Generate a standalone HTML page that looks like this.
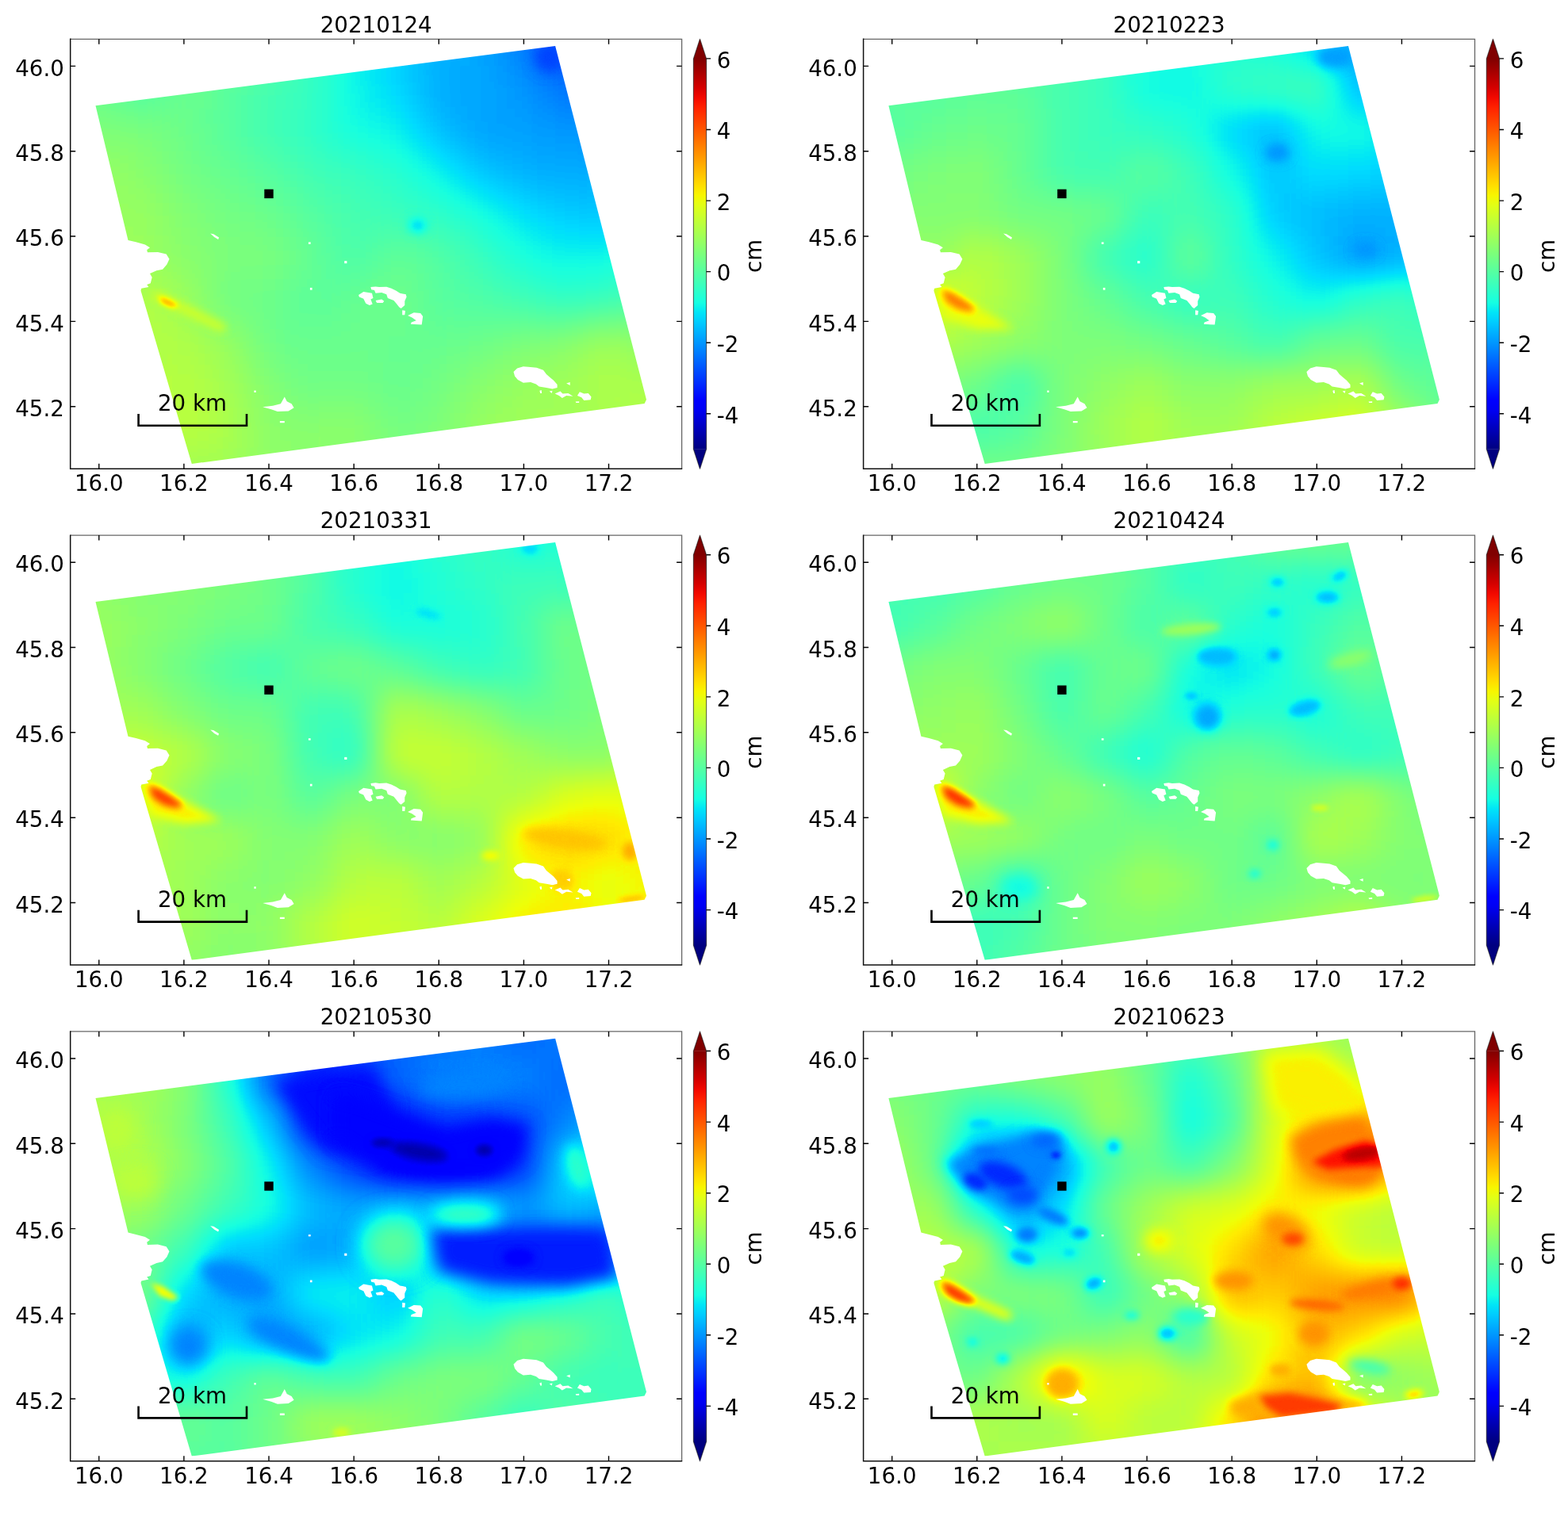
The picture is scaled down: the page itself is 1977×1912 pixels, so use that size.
<!DOCTYPE html>
<html lang="en"><head><meta charset="utf-8"><title>InSAR displacement time series</title>
<style>html,body{margin:0;padding:0;background:#fff}svg{display:block}text{font-family:'DejaVu Sans', 'Liberation Sans', sans-serif}</style>
</head><body>
<svg width="1977" height="1912" viewBox="0 0 1977 1912">
<rect width="1977" height="1912" fill="#fff"/>
<defs>
<filter id="jet" x="0" y="0" width="100%" height="100%" filterUnits="objectBoundingBox" color-interpolation-filters="sRGB"><feComponentTransfer><feFuncR type="table" tableValues="0 0 0 0 0 0 0 0 0 0 0 0 0 0 0 0 0 0 0 0 0 0 0 0 0 0 0 0 0 0 0 0 0 0 0 0 0.032 0.065 0.097 0.129 0.161 0.194 0.226 0.258 0.29 0.323 0.355 0.387 0.419 0.452 0.484 0.516 0.548 0.581 0.613 0.645 0.677 0.71 0.742 0.774 0.806 0.839 0.871 0.903 0.935 0.968 1 1 1 1 1 1 1 1 1 1 1 1 1 1 1 1 1 1 1 1 1 1 1 1 0.955 0.909 0.864 0.818 0.773 0.727 0.682 0.636 0.591 0.545 0.5"/><feFuncG type="table" tableValues="0 0 0 0 0 0 0 0 0 0 0 0 0 0.02 0.06 0.1 0.14 0.18 0.22 0.26 0.3 0.34 0.38 0.42 0.46 0.5 0.54 0.58 0.62 0.66 0.7 0.74 0.78 0.82 0.86 0.9 0.94 0.98 1 1 1 1 1 1 1 1 1 1 1 1 1 1 1 1 1 1 1 1 1 1 1 1 1 1 1 0.963 0.926 0.889 0.852 0.815 0.778 0.741 0.704 0.667 0.63 0.593 0.556 0.519 0.481 0.444 0.407 0.37 0.333 0.296 0.259 0.222 0.185 0.148 0.111 0.074 0.037 0 0 0 0 0 0 0 0 0 0"/><feFuncB type="table" tableValues="0.5 0.545 0.591 0.636 0.682 0.727 0.773 0.818 0.864 0.909 0.955 1 1 1 1 1 1 1 1 1 1 1 1 1 1 1 1 1 1 1 1 1 1 1 1 0.968 0.935 0.903 0.871 0.839 0.806 0.774 0.742 0.71 0.677 0.645 0.613 0.581 0.548 0.516 0.484 0.452 0.419 0.387 0.355 0.323 0.29 0.258 0.226 0.194 0.161 0.129 0.097 0.065 0.032 0 0 0 0 0 0 0 0 0 0 0 0 0 0 0 0 0 0 0 0 0 0 0 0 0 0 0 0 0 0 0 0 0 0 0 0"/></feComponentTransfer></filter>
<filter id="b1" filterUnits="userSpaceOnUse" x="0" y="0" width="950" height="650" color-interpolation-filters="sRGB"><feGaussianBlur stdDeviation="1"/></filter>
<filter id="b2" filterUnits="userSpaceOnUse" x="0" y="0" width="950" height="650" color-interpolation-filters="sRGB"><feGaussianBlur stdDeviation="2"/></filter>
<filter id="b3" filterUnits="userSpaceOnUse" x="0" y="0" width="950" height="650" color-interpolation-filters="sRGB"><feGaussianBlur stdDeviation="3"/></filter>
<filter id="b4" filterUnits="userSpaceOnUse" x="0" y="0" width="950" height="650" color-interpolation-filters="sRGB"><feGaussianBlur stdDeviation="4"/></filter>
<filter id="b6" filterUnits="userSpaceOnUse" x="0" y="0" width="950" height="650" color-interpolation-filters="sRGB"><feGaussianBlur stdDeviation="6"/></filter>
<filter id="b8" filterUnits="userSpaceOnUse" x="0" y="0" width="950" height="650" color-interpolation-filters="sRGB"><feGaussianBlur stdDeviation="8"/></filter>
<filter id="b10" filterUnits="userSpaceOnUse" x="0" y="0" width="950" height="650" color-interpolation-filters="sRGB"><feGaussianBlur stdDeviation="10"/></filter>
<filter id="b12" filterUnits="userSpaceOnUse" x="0" y="0" width="950" height="650" color-interpolation-filters="sRGB"><feGaussianBlur stdDeviation="12"/></filter>
<filter id="b16" filterUnits="userSpaceOnUse" x="0" y="0" width="950" height="650" color-interpolation-filters="sRGB"><feGaussianBlur stdDeviation="16"/></filter>
<filter id="b20" filterUnits="userSpaceOnUse" x="0" y="0" width="950" height="650" color-interpolation-filters="sRGB"><feGaussianBlur stdDeviation="20"/></filter>
<filter id="b25" filterUnits="userSpaceOnUse" x="0" y="0" width="950" height="650" color-interpolation-filters="sRGB"><feGaussianBlur stdDeviation="25"/></filter>
<filter id="b30" filterUnits="userSpaceOnUse" x="0" y="0" width="950" height="650" color-interpolation-filters="sRGB"><feGaussianBlur stdDeviation="30"/></filter>
<filter id="b40" filterUnits="userSpaceOnUse" x="0" y="0" width="950" height="650" color-interpolation-filters="sRGB"><feGaussianBlur stdDeviation="40"/></filter>
<filter id="b50" filterUnits="userSpaceOnUse" x="0" y="0" width="950" height="650" color-interpolation-filters="sRGB"><feGaussianBlur stdDeviation="50"/></filter>
<filter id="b60" filterUnits="userSpaceOnUse" x="0" y="0" width="950" height="650" color-interpolation-filters="sRGB"><feGaussianBlur stdDeviation="60"/></filter>
<filter id="b80" filterUnits="userSpaceOnUse" x="0" y="0" width="950" height="650" color-interpolation-filters="sRGB"><feGaussianBlur stdDeviation="80"/></filter>
<linearGradient id="cb" x1="0" y1="0" x2="0" y2="1"><stop offset="0.000" stop-color="#800000"/><stop offset="0.025" stop-color="#9c0000"/><stop offset="0.050" stop-color="#b90000"/><stop offset="0.075" stop-color="#d60000"/><stop offset="0.100" stop-color="#f30900"/><stop offset="0.125" stop-color="#ff2100"/><stop offset="0.150" stop-color="#ff3900"/><stop offset="0.175" stop-color="#ff5000"/><stop offset="0.200" stop-color="#ff6800"/><stop offset="0.225" stop-color="#ff8000"/><stop offset="0.250" stop-color="#ff9700"/><stop offset="0.275" stop-color="#ffaf00"/><stop offset="0.300" stop-color="#ffc600"/><stop offset="0.325" stop-color="#ffde00"/><stop offset="0.350" stop-color="#f7f600"/><stop offset="0.375" stop-color="#e2ff15"/><stop offset="0.400" stop-color="#ceff29"/><stop offset="0.425" stop-color="#b9ff3e"/><stop offset="0.450" stop-color="#a5ff52"/><stop offset="0.475" stop-color="#90ff67"/><stop offset="0.500" stop-color="#7bff7b"/><stop offset="0.525" stop-color="#67ff90"/><stop offset="0.550" stop-color="#52ffa5"/><stop offset="0.575" stop-color="#3effb9"/><stop offset="0.600" stop-color="#29ffce"/><stop offset="0.625" stop-color="#15ffe2"/><stop offset="0.650" stop-color="#00e5f7"/><stop offset="0.675" stop-color="#00ccff"/><stop offset="0.700" stop-color="#00b2ff"/><stop offset="0.725" stop-color="#0099ff"/><stop offset="0.750" stop-color="#0080ff"/><stop offset="0.775" stop-color="#0066ff"/><stop offset="0.800" stop-color="#004cff"/><stop offset="0.825" stop-color="#0033ff"/><stop offset="0.850" stop-color="#0019ff"/><stop offset="0.875" stop-color="#0000ff"/><stop offset="0.900" stop-color="#0000f3"/><stop offset="0.925" stop-color="#0000d6"/><stop offset="0.950" stop-color="#0000b9"/><stop offset="0.975" stop-color="#00009c"/><stop offset="1.000" stop-color="#000080"/></linearGradient>
</defs>
<clipPath id="foot"><polygon points="120.5,133.3 700.1,58.1 815,504 812.6,509 241.8,585 177.5,366.5 178.3,363.8 187.5,361.9 185.2,358.9 189.8,357.3 191.7,349.7 189,345.1 197.4,341.3 205.1,339.7 210.4,333.6 213.5,326.7 209.7,320.6 199,317.9 186,318.3 185.2,315.2 189,312.2 182.9,308.4 171.4,305.3 161.5,303"/></clipPath>
<g transform="translate(0.0 0.0)">
<g clip-path="url(#foot)"><g filter="url(#jet)">
<rect x="88.7" y="49.3" width="770.9" height="541.9" fill="#7e7e7e"/>
<g filter="url(#b25)" shape-rendering="crispEdges"><rect x="28.0" y="-40.3" width="124.1" height="124.2" fill="#6f6f6f"/><rect x="151.6" y="-40.3" width="54.1" height="124.2" fill="#757575"/><rect x="205.1" y="-40.3" width="107.6" height="124.2" fill="#757575"/><rect x="312.3" y="-40.3" width="54.1" height="124.2" fill="#707070"/><rect x="365.8" y="-40.3" width="54.1" height="124.2" fill="#686868"/><rect x="419.4" y="-40.3" width="54.1" height="124.2" fill="#5f5f5f"/><rect x="472.9" y="-40.3" width="54.1" height="124.2" fill="#545454"/><rect x="526.5" y="-40.3" width="54.1" height="124.2" fill="#4d4d4d"/><rect x="580.1" y="-40.3" width="54.1" height="124.2" fill="#4a4a4a"/><rect x="633.6" y="-40.3" width="54.1" height="124.2" fill="#3f3f3f"/><rect x="687.2" y="-40.3" width="54.1" height="124.2" fill="#333333"/><rect x="740.7" y="-40.3" width="54.1" height="124.2" fill="#383838"/><rect x="794.3" y="-40.3" width="123.6" height="124.2" fill="#3a3a3a"/><rect x="28.0" y="83.4" width="124.1" height="54.2" fill="#7a7a7a"/><rect x="151.6" y="83.4" width="54.1" height="54.2" fill="#6f6f6f"/><rect x="205.1" y="83.4" width="54.1" height="54.2" fill="#7b7b7b"/><rect x="258.7" y="83.4" width="54.1" height="54.2" fill="#767676"/><rect x="312.3" y="83.4" width="54.1" height="54.2" fill="#6f6f6f"/><rect x="365.8" y="83.4" width="54.1" height="54.2" fill="#6b6b6b"/><rect x="419.4" y="83.4" width="54.1" height="54.2" fill="#5d5d5d"/><rect x="472.9" y="83.4" width="54.1" height="54.2" fill="#565656"/><rect x="526.5" y="83.4" width="107.6" height="54.2" fill="#4a4a4a"/><rect x="633.6" y="83.4" width="54.1" height="54.2" fill="#464646"/><rect x="687.2" y="83.4" width="107.6" height="54.2" fill="#3c3c3c"/><rect x="794.3" y="83.4" width="123.6" height="54.2" fill="#3d3d3d"/><rect x="28.0" y="137.1" width="177.6" height="54.2" fill="#808080"/><rect x="205.1" y="137.1" width="54.1" height="54.2" fill="#7b7b7b"/><rect x="258.7" y="137.1" width="54.1" height="54.2" fill="#747474"/><rect x="312.3" y="137.1" width="54.1" height="54.2" fill="#6d6d6d"/><rect x="365.8" y="137.1" width="54.1" height="54.2" fill="#686868"/><rect x="419.4" y="137.1" width="54.1" height="54.2" fill="#5f5f5f"/><rect x="472.9" y="137.1" width="54.1" height="54.2" fill="#5d5d5d"/><rect x="526.5" y="137.1" width="54.1" height="54.2" fill="#4f4f4f"/><rect x="580.1" y="137.1" width="107.6" height="54.2" fill="#484848"/><rect x="687.2" y="137.1" width="54.1" height="54.2" fill="#464646"/><rect x="740.7" y="137.1" width="54.1" height="54.2" fill="#444444"/><rect x="794.3" y="137.1" width="123.6" height="54.2" fill="#484848"/><rect x="28.0" y="190.7" width="124.1" height="54.2" fill="#898989"/><rect x="151.6" y="190.7" width="54.1" height="54.2" fill="#848484"/><rect x="205.1" y="190.7" width="54.1" height="54.2" fill="#7d7d7d"/><rect x="258.7" y="190.7" width="54.1" height="54.2" fill="#797979"/><rect x="312.3" y="190.7" width="54.1" height="54.2" fill="#747474"/><rect x="365.8" y="190.7" width="54.1" height="54.2" fill="#6d6d6d"/><rect x="419.4" y="190.7" width="54.1" height="54.2" fill="#6b6b6b"/><rect x="472.9" y="190.7" width="54.1" height="54.2" fill="#666666"/><rect x="526.5" y="190.7" width="54.1" height="54.2" fill="#5d5d5d"/><rect x="580.1" y="190.7" width="54.1" height="54.2" fill="#515151"/><rect x="633.6" y="190.7" width="54.1" height="54.2" fill="#4c4c4c"/><rect x="687.2" y="190.7" width="54.1" height="54.2" fill="#4a4a4a"/><rect x="740.7" y="190.7" width="54.1" height="54.2" fill="#4d4d4d"/><rect x="794.3" y="190.7" width="123.6" height="54.2" fill="#515151"/><rect x="28.0" y="244.4" width="124.1" height="54.2" fill="#888888"/><rect x="151.6" y="244.4" width="54.1" height="54.2" fill="#898989"/><rect x="205.1" y="244.4" width="54.1" height="54.2" fill="#828282"/><rect x="258.7" y="244.4" width="54.1" height="54.2" fill="#7d7d7d"/><rect x="312.3" y="244.4" width="54.1" height="54.2" fill="#7b7b7b"/><rect x="365.8" y="244.4" width="54.1" height="54.2" fill="#747474"/><rect x="419.4" y="244.4" width="54.1" height="54.2" fill="#6f6f6f"/><rect x="472.9" y="244.4" width="54.1" height="54.2" fill="#6b6b6b"/><rect x="526.5" y="244.4" width="54.1" height="54.2" fill="#686868"/><rect x="580.1" y="244.4" width="54.1" height="54.2" fill="#616161"/><rect x="633.6" y="244.4" width="54.1" height="54.2" fill="#585858"/><rect x="687.2" y="244.4" width="54.1" height="54.2" fill="#535353"/><rect x="740.7" y="244.4" width="54.1" height="54.2" fill="#515151"/><rect x="794.3" y="244.4" width="123.6" height="54.2" fill="#585858"/><rect x="28.0" y="298.0" width="124.1" height="54.2" fill="#8c8c8c"/><rect x="151.6" y="298.0" width="54.1" height="54.2" fill="#898989"/><rect x="205.1" y="298.0" width="54.1" height="54.2" fill="#848484"/><rect x="258.7" y="298.0" width="107.6" height="54.2" fill="#808080"/><rect x="365.8" y="298.0" width="54.1" height="54.2" fill="#797979"/><rect x="419.4" y="298.0" width="54.1" height="54.2" fill="#6f6f6f"/><rect x="472.9" y="298.0" width="54.1" height="54.2" fill="#797979"/><rect x="526.5" y="298.0" width="54.1" height="54.2" fill="#747474"/><rect x="580.1" y="298.0" width="54.1" height="54.2" fill="#6b6b6b"/><rect x="633.6" y="298.0" width="54.1" height="54.2" fill="#616161"/><rect x="687.2" y="298.0" width="54.1" height="54.2" fill="#5d5d5d"/><rect x="740.7" y="298.0" width="54.1" height="54.2" fill="#5f5f5f"/><rect x="794.3" y="298.0" width="123.6" height="54.2" fill="#5e5e5e"/><rect x="28.0" y="351.7" width="124.1" height="54.2" fill="#8e8e8e"/><rect x="151.6" y="351.7" width="54.1" height="54.2" fill="#929292"/><rect x="205.1" y="351.7" width="54.1" height="54.2" fill="#8b8b8b"/><rect x="258.7" y="351.7" width="107.6" height="54.2" fill="#7b7b7b"/><rect x="365.8" y="351.7" width="54.1" height="54.2" fill="#747474"/><rect x="419.4" y="351.7" width="54.1" height="54.2" fill="#797979"/><rect x="472.9" y="351.7" width="54.1" height="54.2" fill="#7d7d7d"/><rect x="526.5" y="351.7" width="54.1" height="54.2" fill="#747474"/><rect x="580.1" y="351.7" width="54.1" height="54.2" fill="#727272"/><rect x="633.6" y="351.7" width="54.1" height="54.2" fill="#6d6d6d"/><rect x="687.2" y="351.7" width="54.1" height="54.2" fill="#686868"/><rect x="740.7" y="351.7" width="54.1" height="54.2" fill="#6b6b6b"/><rect x="794.3" y="351.7" width="123.6" height="54.2" fill="#727272"/><rect x="28.0" y="405.4" width="124.1" height="54.2" fill="#919191"/><rect x="151.6" y="405.4" width="107.6" height="54.2" fill="#909090"/><rect x="258.7" y="405.4" width="54.1" height="54.2" fill="#898989"/><rect x="312.3" y="405.4" width="54.1" height="54.2" fill="#7b7b7b"/><rect x="365.8" y="405.4" width="54.1" height="54.2" fill="#797979"/><rect x="419.4" y="405.4" width="54.1" height="54.2" fill="#7b7b7b"/><rect x="472.9" y="405.4" width="107.6" height="54.2" fill="#797979"/><rect x="580.1" y="405.4" width="54.1" height="54.2" fill="#7b7b7b"/><rect x="633.6" y="405.4" width="54.1" height="54.2" fill="#808080"/><rect x="687.2" y="405.4" width="54.1" height="54.2" fill="#848484"/><rect x="740.7" y="405.4" width="54.1" height="54.2" fill="#8d8d8d"/><rect x="794.3" y="405.4" width="123.6" height="54.2" fill="#838383"/><rect x="28.0" y="459.0" width="124.1" height="54.2" fill="#909090"/><rect x="151.6" y="459.0" width="54.1" height="54.2" fill="#919191"/><rect x="205.1" y="459.0" width="54.1" height="54.2" fill="#929292"/><rect x="258.7" y="459.0" width="54.1" height="54.2" fill="#8d8d8d"/><rect x="312.3" y="459.0" width="54.1" height="54.2" fill="#828282"/><rect x="365.8" y="459.0" width="54.1" height="54.2" fill="#7b7b7b"/><rect x="419.4" y="459.0" width="54.1" height="54.2" fill="#7d7d7d"/><rect x="472.9" y="459.0" width="54.1" height="54.2" fill="#797979"/><rect x="526.5" y="459.0" width="54.1" height="54.2" fill="#7d7d7d"/><rect x="580.1" y="459.0" width="54.1" height="54.2" fill="#848484"/><rect x="633.6" y="459.0" width="54.1" height="54.2" fill="#898989"/><rect x="687.2" y="459.0" width="54.1" height="54.2" fill="#8b8b8b"/><rect x="740.7" y="459.0" width="54.1" height="54.2" fill="#909090"/><rect x="794.3" y="459.0" width="123.6" height="54.2" fill="#8f8f8f"/><rect x="28.0" y="512.7" width="124.1" height="54.2" fill="#909090"/><rect x="151.6" y="512.7" width="54.1" height="54.2" fill="#909090"/><rect x="205.1" y="512.7" width="54.1" height="54.2" fill="#949494"/><rect x="258.7" y="512.7" width="54.1" height="54.2" fill="#909090"/><rect x="312.3" y="512.7" width="107.6" height="54.2" fill="#848484"/><rect x="419.4" y="512.7" width="54.1" height="54.2" fill="#868686"/><rect x="472.9" y="512.7" width="54.1" height="54.2" fill="#7d7d7d"/><rect x="526.5" y="512.7" width="54.1" height="54.2" fill="#808080"/><rect x="580.1" y="512.7" width="54.1" height="54.2" fill="#898989"/><rect x="633.6" y="512.7" width="107.6" height="54.2" fill="#8b8b8b"/><rect x="740.7" y="512.7" width="54.1" height="54.2" fill="#8d8d8d"/><rect x="794.3" y="512.7" width="123.6" height="54.2" fill="#909090"/><rect x="28.0" y="566.3" width="124.1" height="123.7" fill="#909090"/><rect x="151.6" y="566.3" width="54.1" height="123.7" fill="#909090"/><rect x="205.1" y="566.3" width="107.6" height="123.7" fill="#8b8b8b"/><rect x="312.3" y="566.3" width="54.1" height="123.7" fill="#868686"/><rect x="365.8" y="566.3" width="54.1" height="123.7" fill="#858585"/><rect x="419.4" y="566.3" width="54.1" height="123.7" fill="#838383"/><rect x="472.9" y="566.3" width="54.1" height="123.7" fill="#818181"/><rect x="526.5" y="566.3" width="54.1" height="123.7" fill="#828282"/><rect x="580.1" y="566.3" width="54.1" height="123.7" fill="#868686"/><rect x="633.6" y="566.3" width="54.1" height="123.7" fill="#8a8a8a"/><rect x="687.2" y="566.3" width="107.6" height="123.7" fill="#8b8b8b"/><rect x="794.3" y="566.3" width="123.6" height="123.7" fill="#8d8d8d"/></g>
<ellipse cx="693.0" cy="72.1" rx="19.1" ry="19.1" fill="#313131" filter="url(#b8)"/>
<ellipse cx="526.6" cy="284.4" rx="11.5" ry="9.6" fill="#565656" filter="url(#b6)"/>
<polyline points="197.5,373.0 241.5,394.1 279.7,413.2" fill="none" stroke="#9e9e9e" stroke-width="9.6" stroke-linecap="round" stroke-linejoin="round" filter="url(#b6)"/>
<polygon points="199.4,373.4 212.8,377.8 225.8,385.5 217.0,388.0 204.2,382.6" fill="#bcbcbc" filter="url(#b3)"/>
</g>
<g fill="#fff"><polygon points="452.1,372.1 458.3,367.9 469.0,369.8 470.5,375.9 467.4,377.4 469.7,383.6 465.9,385.1 461.3,382.8 458.3,376.7 452.9,374.4"/><polygon points="467.4,362.1 473.6,361.4 478.1,362.1 487.3,361.8 493.5,363.7 499.6,366.7 504.2,369.8 511.8,371.3 512.6,374.4 510.3,379.7 510.3,385.1 505.7,388.9 503.4,387.4 500.3,383.6 496.5,379.0 488.9,375.9 487.3,371.3 481.2,369.0 473.6,369.8 472.0,366.0 468.2,365.2"/><polygon points="473.6,379.0 481.2,377.4 484.3,379.7 482.7,382.0 475.1,382.0"/><polygon points="514.1,398.1 521.8,394.3 530.2,395.0 533.2,398.9 531.7,409.6 517.9,408.8 518.7,406.5 524.8,404.2 519.5,400.4"/><polygon points="507.2,391.2 511.0,392.0 510.3,397.3 507.2,397.3"/><polygon points="647.5,469.1 652.1,464.5 659.8,462.2 669.0,463.0 676.6,463.7 685.0,466.8 688.9,472.1 693.5,476.0 698.0,479.8 702.6,485.1 702.6,489.0 696.5,490.5 688.9,489.0 679.7,487.4 675.9,484.4 669.0,482.1 659.8,482.8 652.9,479.0 649.1,474.4"/><polygon points="699.6,496.6 706.5,493.6 709.5,496.6 716.4,495.9 722.5,499.7 714.1,498.9 708.8,502.0 704.9,498.9"/><polygon points="727.9,498.9 730.9,494.3 736.3,496.6 741.7,495.9 745.5,500.4 744.7,504.3 736.3,505.0 733.2,501.2"/><polygon points="714.1,483.6 718.7,482.1 718.7,485.9"/><polygon points="692.7,493.6 696.5,492.8 695.7,495.9"/><polygon points="725.6,506.6 730.2,506.2 730.2,508.1 726.4,508.1"/><polygon points="680.4,492.8 682.7,492.0 683.1,495.9 681.2,495.9"/><polygon points="331.2,513.2 344.0,511.8 353.9,509.3 358.8,500.4 361.7,506.3 367.6,509.3 370.6,514.2 363.7,518.5 349.9,519.1 342.0,516.2"/><polygon points="352.9,530.9 358.8,530.9 358.8,533.3 352.9,533.3"/><polygon points="265.2,294.6 269.2,295.2 276.1,299.5 275.1,301.9 270.2,299.1"/><polygon points="388.9,305.4 391.7,305.4 391.7,307.8 388.9,307.8"/><polygon points="434.2,329.1 437.4,329.1 437.4,332.2 434.2,332.2"/><polygon points="390.9,362.9 393.6,362.9 393.6,365.7 390.9,365.7"/><polygon points="320.4,492.5 322.7,492.5 322.7,494.9 320.4,494.9"/></g>
</g>
<path d="M88.7 49.3H859.6V591.2" fill="none" stroke="#666" stroke-width="1.3"/>
<path d="M88.7 48.599999999999994V591.2H860.2" fill="none" stroke="#111" stroke-width="1.5"/>
<path d="M124.8 591.2v-6.5M124.8 49.3v6.5M231.9 591.2v-6.5M231.9 49.3v6.5M339.0 591.2v-6.5M339.0 49.3v6.5M446.2 591.2v-6.5M446.2 49.3v6.5M553.3 591.2v-6.5M553.3 49.3v6.5M660.4 591.2v-6.5M660.4 49.3v6.5M767.5 591.2v-6.5M767.5 49.3v6.5M88.7 83.4h6.5M859.6 83.4h-6.5M88.7 190.7h6.5M859.6 190.7h-6.5M88.7 298.0h6.5M859.6 298.0h-6.5M88.7 405.4h6.5M859.6 405.4h-6.5M88.7 512.7h6.5M859.6 512.7h-6.5" stroke="#000" stroke-width="1.4" fill="none"/>
<g font-size="27.7" fill="#000">
<text x="124.8" y="619.4" text-anchor="middle">16.0</text>
<text x="231.9" y="619.4" text-anchor="middle">16.2</text>
<text x="339.0" y="619.4" text-anchor="middle">16.4</text>
<text x="446.2" y="619.4" text-anchor="middle">16.6</text>
<text x="553.3" y="619.4" text-anchor="middle">16.8</text>
<text x="660.4" y="619.4" text-anchor="middle">17.0</text>
<text x="767.5" y="619.4" text-anchor="middle">17.2</text>
<text x="80.9" y="95.7" text-anchor="end">46.0</text>
<text x="80.9" y="203.0" text-anchor="end">45.8</text>
<text x="80.9" y="310.3" text-anchor="end">45.6</text>
<text x="80.9" y="417.7" text-anchor="end">45.4</text>
<text x="80.9" y="525.0" text-anchor="end">45.2</text>
<text x="474.2" y="40.6" text-anchor="middle">20210124</text>
<rect x="874.4" y="73.9" width="16.2" height="492.6" fill="url(#cb)"/>
<path d="M874.4 74.2L882.5 49.3L890.6 74.2z" fill="#800000"/>
<path d="M874.4 566.3L882.5 591.2L890.6 566.3z" fill="#000080"/>
<path d="M874.4 73.9L882.5 49.3L890.6 73.9V566.6L882.5 591.2L874.4 566.6z" fill="none" stroke="#000" stroke-opacity=".55" stroke-width="1.2" stroke-linejoin="round"/>
<text x="903.8" y="85.7">6</text>
<text x="903.8" y="175.3">4</text>
<text x="903.8" y="264.9">2</text>
<text x="903.8" y="354.4">0</text>
<text x="903.8" y="444.0">-2</text>
<text x="903.8" y="533.6">-4</text>
<path d="M890.6 73.9h5.5M890.6 163.5h5.5M890.6 253.1h5.5M890.6 342.6h5.5M890.6 432.2h5.5M890.6 521.8h5.5" stroke="#000" stroke-width="1.4" fill="none"/>
<text transform="translate(960.2 322.8) rotate(-90)" text-anchor="middle">cm</text>
<path d="M174.6 522V536.8H311V522" fill="none" stroke="#000" stroke-width="2.6"/>
<text x="242.4" y="518.1" text-anchor="middle">20 km</text>
</g>
<rect x="333.3" y="238.7" width="11.4" height="11.4" fill="#000"/>
</g>
<g transform="translate(999.9 0.0)">
<g clip-path="url(#foot)"><g filter="url(#jet)">
<rect x="88.7" y="49.3" width="770.9" height="541.9" fill="#808080"/>
<g filter="url(#b20)" shape-rendering="crispEdges"><rect x="28.0" y="-40.3" width="124.1" height="124.2" fill="#747474"/><rect x="151.6" y="-40.3" width="54.1" height="124.2" fill="#757575"/><rect x="205.1" y="-40.3" width="54.1" height="124.2" fill="#757575"/><rect x="258.7" y="-40.3" width="54.1" height="124.2" fill="#747474"/><rect x="312.3" y="-40.3" width="54.1" height="124.2" fill="#707070"/><rect x="365.8" y="-40.3" width="54.1" height="124.2" fill="#686868"/><rect x="419.4" y="-40.3" width="54.1" height="124.2" fill="#626262"/><rect x="472.9" y="-40.3" width="54.1" height="124.2" fill="#616161"/><rect x="526.5" y="-40.3" width="54.1" height="124.2" fill="#646464"/><rect x="580.1" y="-40.3" width="54.1" height="124.2" fill="#616161"/><rect x="633.6" y="-40.3" width="54.1" height="124.2" fill="#565656"/><rect x="687.2" y="-40.3" width="54.1" height="124.2" fill="#484848"/><rect x="740.7" y="-40.3" width="54.1" height="124.2" fill="#4b4b4b"/><rect x="794.3" y="-40.3" width="123.6" height="124.2" fill="#4f4f4f"/><rect x="28.0" y="83.4" width="124.1" height="54.2" fill="#757575"/><rect x="151.6" y="83.4" width="54.1" height="54.2" fill="#747474"/><rect x="205.1" y="83.4" width="107.6" height="54.2" fill="#767676"/><rect x="312.3" y="83.4" width="54.1" height="54.2" fill="#6f6f6f"/><rect x="365.8" y="83.4" width="54.1" height="54.2" fill="#6b6b6b"/><rect x="419.4" y="83.4" width="54.1" height="54.2" fill="#5f5f5f"/><rect x="472.9" y="83.4" width="54.1" height="54.2" fill="#5d5d5d"/><rect x="526.5" y="83.4" width="54.1" height="54.2" fill="#686868"/><rect x="580.1" y="83.4" width="54.1" height="54.2" fill="#6b6b6b"/><rect x="633.6" y="83.4" width="54.1" height="54.2" fill="#6d6d6d"/><rect x="687.2" y="83.4" width="54.1" height="54.2" fill="#4f4f4f"/><rect x="740.7" y="83.4" width="54.1" height="54.2" fill="#535353"/><rect x="794.3" y="83.4" width="123.6" height="54.2" fill="#525252"/><rect x="28.0" y="137.1" width="124.1" height="54.2" fill="#747474"/><rect x="151.6" y="137.1" width="54.1" height="54.2" fill="#797979"/><rect x="205.1" y="137.1" width="54.1" height="54.2" fill="#7b7b7b"/><rect x="258.7" y="137.1" width="54.1" height="54.2" fill="#797979"/><rect x="312.3" y="137.1" width="54.1" height="54.2" fill="#6f6f6f"/><rect x="365.8" y="137.1" width="54.1" height="54.2" fill="#6b6b6b"/><rect x="419.4" y="137.1" width="54.1" height="54.2" fill="#686868"/><rect x="472.9" y="137.1" width="54.1" height="54.2" fill="#646464"/><rect x="526.5" y="137.1" width="54.1" height="54.2" fill="#565656"/><rect x="580.1" y="137.1" width="54.1" height="54.2" fill="#4f4f4f"/><rect x="633.6" y="137.1" width="54.1" height="54.2" fill="#5f5f5f"/><rect x="687.2" y="137.1" width="54.1" height="54.2" fill="#616161"/><rect x="740.7" y="137.1" width="54.1" height="54.2" fill="#575757"/><rect x="794.3" y="137.1" width="123.6" height="54.2" fill="#535353"/><rect x="28.0" y="190.7" width="124.1" height="54.2" fill="#7d7d7d"/><rect x="151.6" y="190.7" width="54.1" height="54.2" fill="#808080"/><rect x="205.1" y="190.7" width="54.1" height="54.2" fill="#828282"/><rect x="258.7" y="190.7" width="54.1" height="54.2" fill="#797979"/><rect x="312.3" y="190.7" width="54.1" height="54.2" fill="#6f6f6f"/><rect x="365.8" y="190.7" width="54.1" height="54.2" fill="#6d6d6d"/><rect x="419.4" y="190.7" width="54.1" height="54.2" fill="#767676"/><rect x="472.9" y="190.7" width="54.1" height="54.2" fill="#6d6d6d"/><rect x="526.5" y="190.7" width="54.1" height="54.2" fill="#5f5f5f"/><rect x="580.1" y="190.7" width="54.1" height="54.2" fill="#515151"/><rect x="633.6" y="190.7" width="54.1" height="54.2" fill="#585858"/><rect x="687.2" y="190.7" width="54.1" height="54.2" fill="#565656"/><rect x="740.7" y="190.7" width="54.1" height="54.2" fill="#545454"/><rect x="794.3" y="190.7" width="123.6" height="54.2" fill="#4c4c4c"/><rect x="28.0" y="244.4" width="124.1" height="54.2" fill="#818181"/><rect x="151.6" y="244.4" width="107.6" height="54.2" fill="#828282"/><rect x="258.7" y="244.4" width="107.6" height="54.2" fill="#7d7d7d"/><rect x="365.8" y="244.4" width="54.1" height="54.2" fill="#7b7b7b"/><rect x="419.4" y="244.4" width="54.1" height="54.2" fill="#6b6b6b"/><rect x="472.9" y="244.4" width="54.1" height="54.2" fill="#6f6f6f"/><rect x="526.5" y="244.4" width="54.1" height="54.2" fill="#686868"/><rect x="580.1" y="244.4" width="54.1" height="54.2" fill="#535353"/><rect x="633.6" y="244.4" width="54.1" height="54.2" fill="#4f4f4f"/><rect x="687.2" y="244.4" width="230.7" height="54.2" fill="#4c4c4c"/><rect x="28.0" y="298.0" width="124.1" height="54.2" fill="#8e8e8e"/><rect x="151.6" y="298.0" width="54.1" height="54.2" fill="#868686"/><rect x="205.1" y="298.0" width="54.1" height="54.2" fill="#929292"/><rect x="258.7" y="298.0" width="54.1" height="54.2" fill="#8b8b8b"/><rect x="312.3" y="298.0" width="54.1" height="54.2" fill="#808080"/><rect x="365.8" y="298.0" width="54.1" height="54.2" fill="#6d6d6d"/><rect x="419.4" y="298.0" width="54.1" height="54.2" fill="#646464"/><rect x="472.9" y="298.0" width="54.1" height="54.2" fill="#797979"/><rect x="526.5" y="298.0" width="54.1" height="54.2" fill="#686868"/><rect x="580.1" y="298.0" width="54.1" height="54.2" fill="#5d5d5d"/><rect x="633.6" y="298.0" width="54.1" height="54.2" fill="#515151"/><rect x="687.2" y="298.0" width="54.1" height="54.2" fill="#484848"/><rect x="740.7" y="298.0" width="54.1" height="54.2" fill="#4c4c4c"/><rect x="794.3" y="298.0" width="123.6" height="54.2" fill="#575757"/><rect x="28.0" y="351.7" width="124.1" height="54.2" fill="#939393"/><rect x="151.6" y="351.7" width="54.1" height="54.2" fill="#a2a2a2"/><rect x="205.1" y="351.7" width="54.1" height="54.2" fill="#949494"/><rect x="258.7" y="351.7" width="54.1" height="54.2" fill="#8b8b8b"/><rect x="312.3" y="351.7" width="54.1" height="54.2" fill="#808080"/><rect x="365.8" y="351.7" width="54.1" height="54.2" fill="#797979"/><rect x="419.4" y="351.7" width="54.1" height="54.2" fill="#6f6f6f"/><rect x="472.9" y="351.7" width="54.1" height="54.2" fill="#686868"/><rect x="526.5" y="351.7" width="54.1" height="54.2" fill="#6d6d6d"/><rect x="580.1" y="351.7" width="54.1" height="54.2" fill="#646464"/><rect x="633.6" y="351.7" width="54.1" height="54.2" fill="#5d5d5d"/><rect x="687.2" y="351.7" width="54.1" height="54.2" fill="#686868"/><rect x="740.7" y="351.7" width="54.1" height="54.2" fill="#6d6d6d"/><rect x="794.3" y="351.7" width="123.6" height="54.2" fill="#636363"/><rect x="28.0" y="405.4" width="124.1" height="54.2" fill="#999999"/><rect x="151.6" y="405.4" width="54.1" height="54.2" fill="#909090"/><rect x="205.1" y="405.4" width="54.1" height="54.2" fill="#8b8b8b"/><rect x="258.7" y="405.4" width="54.1" height="54.2" fill="#868686"/><rect x="312.3" y="405.4" width="107.6" height="54.2" fill="#808080"/><rect x="419.4" y="405.4" width="54.1" height="54.2" fill="#7d7d7d"/><rect x="472.9" y="405.4" width="54.1" height="54.2" fill="#797979"/><rect x="526.5" y="405.4" width="54.1" height="54.2" fill="#747474"/><rect x="580.1" y="405.4" width="54.1" height="54.2" fill="#6d6d6d"/><rect x="633.6" y="405.4" width="54.1" height="54.2" fill="#797979"/><rect x="687.2" y="405.4" width="54.1" height="54.2" fill="#7b7b7b"/><rect x="740.7" y="405.4" width="54.1" height="54.2" fill="#6f6f6f"/><rect x="794.3" y="405.4" width="123.6" height="54.2" fill="#727272"/><rect x="28.0" y="459.0" width="124.1" height="54.2" fill="#909090"/><rect x="151.6" y="459.0" width="54.1" height="54.2" fill="#818181"/><rect x="205.1" y="459.0" width="54.1" height="54.2" fill="#7b7b7b"/><rect x="258.7" y="459.0" width="54.1" height="54.2" fill="#6d6d6d"/><rect x="312.3" y="459.0" width="54.1" height="54.2" fill="#808080"/><rect x="365.8" y="459.0" width="54.1" height="54.2" fill="#868686"/><rect x="419.4" y="459.0" width="54.1" height="54.2" fill="#8b8b8b"/><rect x="472.9" y="459.0" width="54.1" height="54.2" fill="#848484"/><rect x="526.5" y="459.0" width="54.1" height="54.2" fill="#868686"/><rect x="580.1" y="459.0" width="107.6" height="54.2" fill="#8b8b8b"/><rect x="687.2" y="459.0" width="54.1" height="54.2" fill="#909090"/><rect x="740.7" y="459.0" width="54.1" height="54.2" fill="#7b7b7b"/><rect x="794.3" y="459.0" width="123.6" height="54.2" fill="#757575"/><rect x="28.0" y="512.7" width="124.1" height="54.2" fill="#808080"/><rect x="151.6" y="512.7" width="54.1" height="54.2" fill="#787878"/><rect x="205.1" y="512.7" width="54.1" height="54.2" fill="#6f6f6f"/><rect x="258.7" y="512.7" width="54.1" height="54.2" fill="#747474"/><rect x="312.3" y="512.7" width="54.1" height="54.2" fill="#808080"/><rect x="365.8" y="512.7" width="54.1" height="54.2" fill="#8b8b8b"/><rect x="419.4" y="512.7" width="54.1" height="54.2" fill="#929292"/><rect x="472.9" y="512.7" width="107.6" height="54.2" fill="#8b8b8b"/><rect x="580.1" y="512.7" width="54.1" height="54.2" fill="#949494"/><rect x="633.6" y="512.7" width="54.1" height="54.2" fill="#999999"/><rect x="687.2" y="512.7" width="54.1" height="54.2" fill="#9e9e9e"/><rect x="740.7" y="512.7" width="54.1" height="54.2" fill="#8d8d8d"/><rect x="794.3" y="512.7" width="123.6" height="54.2" fill="#7b7b7b"/><rect x="28.0" y="566.3" width="124.1" height="123.7" fill="#777777"/><rect x="151.6" y="566.3" width="54.1" height="123.7" fill="#767676"/><rect x="205.1" y="566.3" width="107.6" height="123.7" fill="#7d7d7d"/><rect x="312.3" y="566.3" width="54.1" height="123.7" fill="#828282"/><rect x="365.8" y="566.3" width="54.1" height="123.7" fill="#888888"/><rect x="419.4" y="566.3" width="107.6" height="123.7" fill="#8d8d8d"/><rect x="526.5" y="566.3" width="54.1" height="123.7" fill="#8e8e8e"/><rect x="580.1" y="566.3" width="54.1" height="123.7" fill="#939393"/><rect x="633.6" y="566.3" width="54.1" height="123.7" fill="#999999"/><rect x="687.2" y="566.3" width="54.1" height="123.7" fill="#9b9b9b"/><rect x="740.7" y="566.3" width="54.1" height="123.7" fill="#9e9e9e"/><rect x="794.3" y="566.3" width="123.6" height="123.7" fill="#8d8d8d"/></g>
<ellipse cx="683.4" cy="72.1" rx="23.0" ry="13.4" fill="#484848" filter="url(#b6)"/>
<ellipse cx="610.7" cy="192.6" rx="15.3" ry="11.5" fill="#464646" filter="url(#b6)"/>
<ellipse cx="721.7" cy="315.1" rx="15.3" ry="9.6" fill="#464646" filter="url(#b6)"/>
<polygon points="180.3,363.5 231.9,386.4 279.7,415.1 231.9,415.1 189.8,399.8" fill="#a2a2a2" filter="url(#b6)"/>
<polygon points="186.4,363.9 201.3,368.8 216.6,378.4 231.0,389.3 223.3,393.7 207.0,389.9 192.7,380.7" fill="#c7c7c7" filter="url(#b4)"/>
</g>
<g fill="#fff"><polygon points="452.1,372.1 458.3,367.9 469.0,369.8 470.5,375.9 467.4,377.4 469.7,383.6 465.9,385.1 461.3,382.8 458.3,376.7 452.9,374.4"/><polygon points="467.4,362.1 473.6,361.4 478.1,362.1 487.3,361.8 493.5,363.7 499.6,366.7 504.2,369.8 511.8,371.3 512.6,374.4 510.3,379.7 510.3,385.1 505.7,388.9 503.4,387.4 500.3,383.6 496.5,379.0 488.9,375.9 487.3,371.3 481.2,369.0 473.6,369.8 472.0,366.0 468.2,365.2"/><polygon points="473.6,379.0 481.2,377.4 484.3,379.7 482.7,382.0 475.1,382.0"/><polygon points="514.1,398.1 521.8,394.3 530.2,395.0 533.2,398.9 531.7,409.6 517.9,408.8 518.7,406.5 524.8,404.2 519.5,400.4"/><polygon points="507.2,391.2 511.0,392.0 510.3,397.3 507.2,397.3"/><polygon points="647.5,469.1 652.1,464.5 659.8,462.2 669.0,463.0 676.6,463.7 685.0,466.8 688.9,472.1 693.5,476.0 698.0,479.8 702.6,485.1 702.6,489.0 696.5,490.5 688.9,489.0 679.7,487.4 675.9,484.4 669.0,482.1 659.8,482.8 652.9,479.0 649.1,474.4"/><polygon points="699.6,496.6 706.5,493.6 709.5,496.6 716.4,495.9 722.5,499.7 714.1,498.9 708.8,502.0 704.9,498.9"/><polygon points="727.9,498.9 730.9,494.3 736.3,496.6 741.7,495.9 745.5,500.4 744.7,504.3 736.3,505.0 733.2,501.2"/><polygon points="714.1,483.6 718.7,482.1 718.7,485.9"/><polygon points="692.7,493.6 696.5,492.8 695.7,495.9"/><polygon points="725.6,506.6 730.2,506.2 730.2,508.1 726.4,508.1"/><polygon points="680.4,492.8 682.7,492.0 683.1,495.9 681.2,495.9"/><polygon points="331.2,513.2 344.0,511.8 353.9,509.3 358.8,500.4 361.7,506.3 367.6,509.3 370.6,514.2 363.7,518.5 349.9,519.1 342.0,516.2"/><polygon points="352.9,530.9 358.8,530.9 358.8,533.3 352.9,533.3"/><polygon points="265.2,294.6 269.2,295.2 276.1,299.5 275.1,301.9 270.2,299.1"/><polygon points="388.9,305.4 391.7,305.4 391.7,307.8 388.9,307.8"/><polygon points="434.2,329.1 437.4,329.1 437.4,332.2 434.2,332.2"/><polygon points="390.9,362.9 393.6,362.9 393.6,365.7 390.9,365.7"/><polygon points="320.4,492.5 322.7,492.5 322.7,494.9 320.4,494.9"/></g>
</g>
<path d="M88.7 49.3H859.6V591.2" fill="none" stroke="#666" stroke-width="1.3"/>
<path d="M88.7 48.599999999999994V591.2H860.2" fill="none" stroke="#111" stroke-width="1.5"/>
<path d="M124.8 591.2v-6.5M124.8 49.3v6.5M231.9 591.2v-6.5M231.9 49.3v6.5M339.0 591.2v-6.5M339.0 49.3v6.5M446.2 591.2v-6.5M446.2 49.3v6.5M553.3 591.2v-6.5M553.3 49.3v6.5M660.4 591.2v-6.5M660.4 49.3v6.5M767.5 591.2v-6.5M767.5 49.3v6.5M88.7 83.4h6.5M859.6 83.4h-6.5M88.7 190.7h6.5M859.6 190.7h-6.5M88.7 298.0h6.5M859.6 298.0h-6.5M88.7 405.4h6.5M859.6 405.4h-6.5M88.7 512.7h6.5M859.6 512.7h-6.5" stroke="#000" stroke-width="1.4" fill="none"/>
<g font-size="27.7" fill="#000">
<text x="124.8" y="619.4" text-anchor="middle">16.0</text>
<text x="231.9" y="619.4" text-anchor="middle">16.2</text>
<text x="339.0" y="619.4" text-anchor="middle">16.4</text>
<text x="446.2" y="619.4" text-anchor="middle">16.6</text>
<text x="553.3" y="619.4" text-anchor="middle">16.8</text>
<text x="660.4" y="619.4" text-anchor="middle">17.0</text>
<text x="767.5" y="619.4" text-anchor="middle">17.2</text>
<text x="80.9" y="95.7" text-anchor="end">46.0</text>
<text x="80.9" y="203.0" text-anchor="end">45.8</text>
<text x="80.9" y="310.3" text-anchor="end">45.6</text>
<text x="80.9" y="417.7" text-anchor="end">45.4</text>
<text x="80.9" y="525.0" text-anchor="end">45.2</text>
<text x="474.2" y="40.6" text-anchor="middle">20210223</text>
<rect x="874.4" y="73.9" width="16.2" height="492.6" fill="url(#cb)"/>
<path d="M874.4 74.2L882.5 49.3L890.6 74.2z" fill="#800000"/>
<path d="M874.4 566.3L882.5 591.2L890.6 566.3z" fill="#000080"/>
<path d="M874.4 73.9L882.5 49.3L890.6 73.9V566.6L882.5 591.2L874.4 566.6z" fill="none" stroke="#000" stroke-opacity=".55" stroke-width="1.2" stroke-linejoin="round"/>
<text x="903.8" y="85.7">6</text>
<text x="903.8" y="175.3">4</text>
<text x="903.8" y="264.9">2</text>
<text x="903.8" y="354.4">0</text>
<text x="903.8" y="444.0">-2</text>
<text x="903.8" y="533.6">-4</text>
<path d="M890.6 73.9h5.5M890.6 163.5h5.5M890.6 253.1h5.5M890.6 342.6h5.5M890.6 432.2h5.5M890.6 521.8h5.5" stroke="#000" stroke-width="1.4" fill="none"/>
<text transform="translate(960.2 322.8) rotate(-90)" text-anchor="middle">cm</text>
<path d="M174.6 522V536.8H311V522" fill="none" stroke="#000" stroke-width="2.6"/>
<text x="242.4" y="518.1" text-anchor="middle">20 km</text>
</g>
<rect x="333.3" y="238.7" width="11.4" height="11.4" fill="#000"/>
</g>
<g transform="translate(0.0 625.8)">
<g clip-path="url(#foot)"><g filter="url(#jet)">
<rect x="88.7" y="49.3" width="770.9" height="541.9" fill="#868686"/>
<g filter="url(#b20)" shape-rendering="crispEdges"><rect x="28.0" y="-40.3" width="177.6" height="124.2" fill="#828282"/><rect x="205.1" y="-40.3" width="54.1" height="124.2" fill="#818181"/><rect x="258.7" y="-40.3" width="54.1" height="124.2" fill="#7f7f7f"/><rect x="312.3" y="-40.3" width="54.1" height="124.2" fill="#797979"/><rect x="365.8" y="-40.3" width="54.1" height="124.2" fill="#707070"/><rect x="419.4" y="-40.3" width="54.1" height="124.2" fill="#666666"/><rect x="472.9" y="-40.3" width="54.1" height="124.2" fill="#616161"/><rect x="526.5" y="-40.3" width="54.1" height="124.2" fill="#656565"/><rect x="580.1" y="-40.3" width="54.1" height="124.2" fill="#6b6b6b"/><rect x="633.6" y="-40.3" width="54.1" height="124.2" fill="#616161"/><rect x="687.2" y="-40.3" width="54.1" height="124.2" fill="#646464"/><rect x="740.7" y="-40.3" width="54.1" height="124.2" fill="#676767"/><rect x="794.3" y="-40.3" width="123.6" height="124.2" fill="#6b6b6b"/><rect x="28.0" y="83.4" width="124.1" height="54.2" fill="#858585"/><rect x="151.6" y="83.4" width="107.6" height="54.2" fill="#828282"/><rect x="258.7" y="83.4" width="54.1" height="54.2" fill="#808080"/><rect x="312.3" y="83.4" width="54.1" height="54.2" fill="#7b7b7b"/><rect x="365.8" y="83.4" width="54.1" height="54.2" fill="#727272"/><rect x="419.4" y="83.4" width="54.1" height="54.2" fill="#646464"/><rect x="472.9" y="83.4" width="54.1" height="54.2" fill="#5d5d5d"/><rect x="526.5" y="83.4" width="54.1" height="54.2" fill="#646464"/><rect x="580.1" y="83.4" width="54.1" height="54.2" fill="#686868"/><rect x="633.6" y="83.4" width="54.1" height="54.2" fill="#6d6d6d"/><rect x="687.2" y="83.4" width="54.1" height="54.2" fill="#6b6b6b"/><rect x="740.7" y="83.4" width="54.1" height="54.2" fill="#6e6e6e"/><rect x="794.3" y="83.4" width="123.6" height="54.2" fill="#6f6f6f"/><rect x="28.0" y="137.1" width="124.1" height="54.2" fill="#898989"/><rect x="151.6" y="137.1" width="54.1" height="54.2" fill="#848484"/><rect x="205.1" y="137.1" width="54.1" height="54.2" fill="#808080"/><rect x="258.7" y="137.1" width="107.6" height="54.2" fill="#7b7b7b"/><rect x="365.8" y="137.1" width="54.1" height="54.2" fill="#6f6f6f"/><rect x="419.4" y="137.1" width="54.1" height="54.2" fill="#6b6b6b"/><rect x="472.9" y="137.1" width="107.6" height="54.2" fill="#616161"/><rect x="580.1" y="137.1" width="54.1" height="54.2" fill="#646464"/><rect x="633.6" y="137.1" width="54.1" height="54.2" fill="#6f6f6f"/><rect x="687.2" y="137.1" width="54.1" height="54.2" fill="#7d7d7d"/><rect x="740.7" y="137.1" width="54.1" height="54.2" fill="#767676"/><rect x="794.3" y="137.1" width="123.6" height="54.2" fill="#787878"/><rect x="28.0" y="190.7" width="124.1" height="54.2" fill="#898989"/><rect x="151.6" y="190.7" width="54.1" height="54.2" fill="#828282"/><rect x="205.1" y="190.7" width="54.1" height="54.2" fill="#7b7b7b"/><rect x="258.7" y="190.7" width="54.1" height="54.2" fill="#727272"/><rect x="312.3" y="190.7" width="54.1" height="54.2" fill="#6d6d6d"/><rect x="365.8" y="190.7" width="54.1" height="54.2" fill="#797979"/><rect x="419.4" y="190.7" width="54.1" height="54.2" fill="#7d7d7d"/><rect x="472.9" y="190.7" width="54.1" height="54.2" fill="#767676"/><rect x="526.5" y="190.7" width="54.1" height="54.2" fill="#6d6d6d"/><rect x="580.1" y="190.7" width="54.1" height="54.2" fill="#686868"/><rect x="633.6" y="190.7" width="54.1" height="54.2" fill="#6d6d6d"/><rect x="687.2" y="190.7" width="54.1" height="54.2" fill="#7b7b7b"/><rect x="740.7" y="190.7" width="54.1" height="54.2" fill="#7d7d7d"/><rect x="794.3" y="190.7" width="123.6" height="54.2" fill="#808080"/><rect x="28.0" y="244.4" width="177.6" height="54.2" fill="#8b8b8b"/><rect x="205.1" y="244.4" width="54.1" height="54.2" fill="#828282"/><rect x="258.7" y="244.4" width="107.6" height="54.2" fill="#7b7b7b"/><rect x="365.8" y="244.4" width="107.6" height="54.2" fill="#6d6d6d"/><rect x="472.9" y="244.4" width="54.1" height="54.2" fill="#909090"/><rect x="526.5" y="244.4" width="54.1" height="54.2" fill="#8b8b8b"/><rect x="580.1" y="244.4" width="54.1" height="54.2" fill="#848484"/><rect x="633.6" y="244.4" width="54.1" height="54.2" fill="#797979"/><rect x="687.2" y="244.4" width="54.1" height="54.2" fill="#7b7b7b"/><rect x="740.7" y="244.4" width="54.1" height="54.2" fill="#808080"/><rect x="794.3" y="244.4" width="123.6" height="54.2" fill="#828282"/><rect x="28.0" y="298.0" width="177.6" height="54.2" fill="#979797"/><rect x="205.1" y="298.0" width="54.1" height="54.2" fill="#929292"/><rect x="258.7" y="298.0" width="54.1" height="54.2" fill="#848484"/><rect x="312.3" y="298.0" width="54.1" height="54.2" fill="#808080"/><rect x="365.8" y="298.0" width="54.1" height="54.2" fill="#6d6d6d"/><rect x="419.4" y="298.0" width="54.1" height="54.2" fill="#666666"/><rect x="472.9" y="298.0" width="107.6" height="54.2" fill="#979797"/><rect x="580.1" y="298.0" width="54.1" height="54.2" fill="#929292"/><rect x="633.6" y="298.0" width="54.1" height="54.2" fill="#8b8b8b"/><rect x="687.2" y="298.0" width="107.6" height="54.2" fill="#848484"/><rect x="794.3" y="298.0" width="123.6" height="54.2" fill="#8d8d8d"/><rect x="28.0" y="351.7" width="124.1" height="54.2" fill="#999999"/><rect x="151.6" y="351.7" width="54.1" height="54.2" fill="#a2a2a2"/><rect x="205.1" y="351.7" width="54.1" height="54.2" fill="#868686"/><rect x="258.7" y="351.7" width="54.1" height="54.2" fill="#797979"/><rect x="312.3" y="351.7" width="54.1" height="54.2" fill="#808080"/><rect x="365.8" y="351.7" width="54.1" height="54.2" fill="#747474"/><rect x="419.4" y="351.7" width="107.6" height="54.2" fill="#808080"/><rect x="526.5" y="351.7" width="54.1" height="54.2" fill="#929292"/><rect x="580.1" y="351.7" width="107.6" height="54.2" fill="#909090"/><rect x="687.2" y="351.7" width="54.1" height="54.2" fill="#9e9e9e"/><rect x="740.7" y="351.7" width="54.1" height="54.2" fill="#a2a2a2"/><rect x="794.3" y="351.7" width="123.6" height="54.2" fill="#9c9c9c"/><rect x="28.0" y="405.4" width="124.1" height="54.2" fill="#9a9a9a"/><rect x="151.6" y="405.4" width="54.1" height="54.2" fill="#929292"/><rect x="205.1" y="405.4" width="107.6" height="54.2" fill="#8b8b8b"/><rect x="312.3" y="405.4" width="107.6" height="54.2" fill="#828282"/><rect x="419.4" y="405.4" width="54.1" height="54.2" fill="#8b8b8b"/><rect x="472.9" y="405.4" width="54.1" height="54.2" fill="#848484"/><rect x="526.5" y="405.4" width="54.1" height="54.2" fill="#828282"/><rect x="580.1" y="405.4" width="54.1" height="54.2" fill="#868686"/><rect x="633.6" y="405.4" width="54.1" height="54.2" fill="#acacac"/><rect x="687.2" y="405.4" width="54.1" height="54.2" fill="#b0b0b0"/><rect x="740.7" y="405.4" width="54.1" height="54.2" fill="#aeaeae"/><rect x="794.3" y="405.4" width="123.6" height="54.2" fill="#a5a5a5"/><rect x="28.0" y="459.0" width="124.1" height="54.2" fill="#929292"/><rect x="151.6" y="459.0" width="54.1" height="54.2" fill="#8d8d8d"/><rect x="205.1" y="459.0" width="54.1" height="54.2" fill="#8b8b8b"/><rect x="258.7" y="459.0" width="54.1" height="54.2" fill="#848484"/><rect x="312.3" y="459.0" width="54.1" height="54.2" fill="#828282"/><rect x="365.8" y="459.0" width="54.1" height="54.2" fill="#868686"/><rect x="419.4" y="459.0" width="54.1" height="54.2" fill="#929292"/><rect x="472.9" y="459.0" width="54.1" height="54.2" fill="#949494"/><rect x="526.5" y="459.0" width="54.1" height="54.2" fill="#8b8b8b"/><rect x="580.1" y="459.0" width="54.1" height="54.2" fill="#929292"/><rect x="633.6" y="459.0" width="54.1" height="54.2" fill="#9e9e9e"/><rect x="687.2" y="459.0" width="54.1" height="54.2" fill="#a7a7a7"/><rect x="740.7" y="459.0" width="54.1" height="54.2" fill="#a0a0a0"/><rect x="794.3" y="459.0" width="123.6" height="54.2" fill="#a7a7a7"/><rect x="28.0" y="512.7" width="124.1" height="54.2" fill="#8c8c8c"/><rect x="151.6" y="512.7" width="54.1" height="54.2" fill="#8a8a8a"/><rect x="205.1" y="512.7" width="54.1" height="54.2" fill="#8b8b8b"/><rect x="258.7" y="512.7" width="54.1" height="54.2" fill="#848484"/><rect x="312.3" y="512.7" width="54.1" height="54.2" fill="#868686"/><rect x="365.8" y="512.7" width="54.1" height="54.2" fill="#929292"/><rect x="419.4" y="512.7" width="54.1" height="54.2" fill="#9b9b9b"/><rect x="472.9" y="512.7" width="54.1" height="54.2" fill="#979797"/><rect x="526.5" y="512.7" width="54.1" height="54.2" fill="#929292"/><rect x="580.1" y="512.7" width="54.1" height="54.2" fill="#9e9e9e"/><rect x="633.6" y="512.7" width="107.6" height="54.2" fill="#a9a9a9"/><rect x="740.7" y="512.7" width="54.1" height="54.2" fill="#a5a5a5"/><rect x="794.3" y="512.7" width="123.6" height="54.2" fill="#a0a0a0"/><rect x="28.0" y="566.3" width="124.1" height="123.7" fill="#898989"/><rect x="151.6" y="566.3" width="54.1" height="123.7" fill="#898989"/><rect x="205.1" y="566.3" width="54.1" height="123.7" fill="#868686"/><rect x="258.7" y="566.3" width="54.1" height="123.7" fill="#828282"/><rect x="312.3" y="566.3" width="54.1" height="123.7" fill="#848484"/><rect x="365.8" y="566.3" width="54.1" height="123.7" fill="#8e8e8e"/><rect x="419.4" y="566.3" width="107.6" height="123.7" fill="#979797"/><rect x="526.5" y="566.3" width="54.1" height="123.7" fill="#979797"/><rect x="580.1" y="566.3" width="54.1" height="123.7" fill="#9e9e9e"/><rect x="633.6" y="566.3" width="54.1" height="123.7" fill="#a5a5a5"/><rect x="687.2" y="566.3" width="107.6" height="123.7" fill="#a9a9a9"/><rect x="794.3" y="566.3" width="123.6" height="123.7" fill="#a5a5a5"/></g>
<ellipse cx="540.0" cy="148.6" rx="17.2" ry="5.7" fill="#585858" transform="rotate(15 540.0 148.6)" filter="url(#b4)"/>
<ellipse cx="668.1" cy="66.3" rx="11.5" ry="7.7" fill="#565656" filter="url(#b4)"/>
<polygon points="180.3,361.6 231.9,384.5 279.7,409.4 231.9,413.2 189.8,401.7" fill="#a7a7a7" filter="url(#b6)"/>
<polygon points="186.4,363.9 201.3,368.8 216.6,378.4 231.0,389.3 223.3,393.7 207.0,389.9 192.7,380.7" fill="#d8d8d8" filter="url(#b4)"/>
<ellipse cx="712.1" cy="432.4" rx="53.6" ry="11.5" fill="#b3b3b3" transform="rotate(8 712.1 432.4)" filter="url(#b6)"/>
<ellipse cx="794.4" cy="447.7" rx="9.6" ry="11.5" fill="#b9b9b9" filter="url(#b4)"/>
<ellipse cx="708.3" cy="484.0" rx="15.3" ry="13.4" fill="#b0b0b0" transform="rotate(30 708.3 484.0)" filter="url(#b4)"/>
<ellipse cx="796.3" cy="507.9" rx="17.2" ry="2.9" fill="#b9b9b9" transform="rotate(-8 796.3 507.9)" filter="url(#b3)"/>
<ellipse cx="618.4" cy="453.4" rx="11.5" ry="4.8" fill="#acacac" filter="url(#b4)"/>
</g>
<g fill="#fff"><polygon points="452.1,372.1 458.3,367.9 469.0,369.8 470.5,375.9 467.4,377.4 469.7,383.6 465.9,385.1 461.3,382.8 458.3,376.7 452.9,374.4"/><polygon points="467.4,362.1 473.6,361.4 478.1,362.1 487.3,361.8 493.5,363.7 499.6,366.7 504.2,369.8 511.8,371.3 512.6,374.4 510.3,379.7 510.3,385.1 505.7,388.9 503.4,387.4 500.3,383.6 496.5,379.0 488.9,375.9 487.3,371.3 481.2,369.0 473.6,369.8 472.0,366.0 468.2,365.2"/><polygon points="473.6,379.0 481.2,377.4 484.3,379.7 482.7,382.0 475.1,382.0"/><polygon points="514.1,398.1 521.8,394.3 530.2,395.0 533.2,398.9 531.7,409.6 517.9,408.8 518.7,406.5 524.8,404.2 519.5,400.4"/><polygon points="507.2,391.2 511.0,392.0 510.3,397.3 507.2,397.3"/><polygon points="647.5,469.1 652.1,464.5 659.8,462.2 669.0,463.0 676.6,463.7 685.0,466.8 688.9,472.1 693.5,476.0 698.0,479.8 702.6,485.1 702.6,489.0 696.5,490.5 688.9,489.0 679.7,487.4 675.9,484.4 669.0,482.1 659.8,482.8 652.9,479.0 649.1,474.4"/><polygon points="699.6,496.6 706.5,493.6 709.5,496.6 716.4,495.9 722.5,499.7 714.1,498.9 708.8,502.0 704.9,498.9"/><polygon points="727.9,498.9 730.9,494.3 736.3,496.6 741.7,495.9 745.5,500.4 744.7,504.3 736.3,505.0 733.2,501.2"/><polygon points="714.1,483.6 718.7,482.1 718.7,485.9"/><polygon points="692.7,493.6 696.5,492.8 695.7,495.9"/><polygon points="725.6,506.6 730.2,506.2 730.2,508.1 726.4,508.1"/><polygon points="680.4,492.8 682.7,492.0 683.1,495.9 681.2,495.9"/><polygon points="331.2,513.2 344.0,511.8 353.9,509.3 358.8,500.4 361.7,506.3 367.6,509.3 370.6,514.2 363.7,518.5 349.9,519.1 342.0,516.2"/><polygon points="352.9,530.9 358.8,530.9 358.8,533.3 352.9,533.3"/><polygon points="265.2,294.6 269.2,295.2 276.1,299.5 275.1,301.9 270.2,299.1"/><polygon points="388.9,305.4 391.7,305.4 391.7,307.8 388.9,307.8"/><polygon points="434.2,329.1 437.4,329.1 437.4,332.2 434.2,332.2"/><polygon points="390.9,362.9 393.6,362.9 393.6,365.7 390.9,365.7"/><polygon points="320.4,492.5 322.7,492.5 322.7,494.9 320.4,494.9"/></g>
</g>
<path d="M88.7 49.3H859.6V591.2" fill="none" stroke="#666" stroke-width="1.3"/>
<path d="M88.7 48.599999999999994V591.2H860.2" fill="none" stroke="#111" stroke-width="1.5"/>
<path d="M124.8 591.2v-6.5M124.8 49.3v6.5M231.9 591.2v-6.5M231.9 49.3v6.5M339.0 591.2v-6.5M339.0 49.3v6.5M446.2 591.2v-6.5M446.2 49.3v6.5M553.3 591.2v-6.5M553.3 49.3v6.5M660.4 591.2v-6.5M660.4 49.3v6.5M767.5 591.2v-6.5M767.5 49.3v6.5M88.7 83.4h6.5M859.6 83.4h-6.5M88.7 190.7h6.5M859.6 190.7h-6.5M88.7 298.0h6.5M859.6 298.0h-6.5M88.7 405.4h6.5M859.6 405.4h-6.5M88.7 512.7h6.5M859.6 512.7h-6.5" stroke="#000" stroke-width="1.4" fill="none"/>
<g font-size="27.7" fill="#000">
<text x="124.8" y="619.4" text-anchor="middle">16.0</text>
<text x="231.9" y="619.4" text-anchor="middle">16.2</text>
<text x="339.0" y="619.4" text-anchor="middle">16.4</text>
<text x="446.2" y="619.4" text-anchor="middle">16.6</text>
<text x="553.3" y="619.4" text-anchor="middle">16.8</text>
<text x="660.4" y="619.4" text-anchor="middle">17.0</text>
<text x="767.5" y="619.4" text-anchor="middle">17.2</text>
<text x="80.9" y="95.7" text-anchor="end">46.0</text>
<text x="80.9" y="203.0" text-anchor="end">45.8</text>
<text x="80.9" y="310.3" text-anchor="end">45.6</text>
<text x="80.9" y="417.7" text-anchor="end">45.4</text>
<text x="80.9" y="525.0" text-anchor="end">45.2</text>
<text x="474.2" y="40.6" text-anchor="middle">20210331</text>
<rect x="874.4" y="73.9" width="16.2" height="492.6" fill="url(#cb)"/>
<path d="M874.4 74.2L882.5 49.3L890.6 74.2z" fill="#800000"/>
<path d="M874.4 566.3L882.5 591.2L890.6 566.3z" fill="#000080"/>
<path d="M874.4 73.9L882.5 49.3L890.6 73.9V566.6L882.5 591.2L874.4 566.6z" fill="none" stroke="#000" stroke-opacity=".55" stroke-width="1.2" stroke-linejoin="round"/>
<text x="903.8" y="85.7">6</text>
<text x="903.8" y="175.3">4</text>
<text x="903.8" y="264.9">2</text>
<text x="903.8" y="354.4">0</text>
<text x="903.8" y="444.0">-2</text>
<text x="903.8" y="533.6">-4</text>
<path d="M890.6 73.9h5.5M890.6 163.5h5.5M890.6 253.1h5.5M890.6 342.6h5.5M890.6 432.2h5.5M890.6 521.8h5.5" stroke="#000" stroke-width="1.4" fill="none"/>
<text transform="translate(960.2 322.8) rotate(-90)" text-anchor="middle">cm</text>
<path d="M174.6 522V536.8H311V522" fill="none" stroke="#000" stroke-width="2.6"/>
<text x="242.4" y="518.1" text-anchor="middle">20 km</text>
</g>
<rect x="333.3" y="238.7" width="11.4" height="11.4" fill="#000"/>
</g>
<g transform="translate(999.9 625.8)">
<g clip-path="url(#foot)"><g filter="url(#jet)">
<rect x="88.7" y="49.3" width="770.9" height="541.9" fill="#7d7d7d"/>
<g filter="url(#b20)" shape-rendering="crispEdges"><rect x="28.0" y="-40.3" width="124.1" height="124.2" fill="#6d6d6d"/><rect x="151.6" y="-40.3" width="54.1" height="124.2" fill="#6f6f6f"/><rect x="205.1" y="-40.3" width="54.1" height="124.2" fill="#727272"/><rect x="258.7" y="-40.3" width="54.1" height="124.2" fill="#777777"/><rect x="312.3" y="-40.3" width="54.1" height="124.2" fill="#7a7a7a"/><rect x="365.8" y="-40.3" width="54.1" height="124.2" fill="#797979"/><rect x="419.4" y="-40.3" width="54.1" height="124.2" fill="#727272"/><rect x="472.9" y="-40.3" width="107.6" height="124.2" fill="#6d6d6d"/><rect x="580.1" y="-40.3" width="54.1" height="124.2" fill="#797979"/><rect x="633.6" y="-40.3" width="54.1" height="124.2" fill="#7b7b7b"/><rect x="687.2" y="-40.3" width="54.1" height="124.2" fill="#797979"/><rect x="740.7" y="-40.3" width="54.1" height="124.2" fill="#707070"/><rect x="794.3" y="-40.3" width="123.6" height="124.2" fill="#717171"/><rect x="28.0" y="83.4" width="124.1" height="54.2" fill="#6f6f6f"/><rect x="151.6" y="83.4" width="54.1" height="54.2" fill="#6d6d6d"/><rect x="205.1" y="83.4" width="54.1" height="54.2" fill="#727272"/><rect x="258.7" y="83.4" width="54.1" height="54.2" fill="#797979"/><rect x="312.3" y="83.4" width="107.6" height="54.2" fill="#7b7b7b"/><rect x="419.4" y="83.4" width="54.1" height="54.2" fill="#747474"/><rect x="472.9" y="83.4" width="54.1" height="54.2" fill="#666666"/><rect x="526.5" y="83.4" width="54.1" height="54.2" fill="#6d6d6d"/><rect x="580.1" y="83.4" width="54.1" height="54.2" fill="#686868"/><rect x="633.6" y="83.4" width="54.1" height="54.2" fill="#646464"/><rect x="687.2" y="83.4" width="54.1" height="54.2" fill="#686868"/><rect x="740.7" y="83.4" width="54.1" height="54.2" fill="#727272"/><rect x="794.3" y="83.4" width="123.6" height="54.2" fill="#717171"/><rect x="28.0" y="137.1" width="124.1" height="54.2" fill="#6d6d6d"/><rect x="151.6" y="137.1" width="54.1" height="54.2" fill="#747474"/><rect x="205.1" y="137.1" width="54.1" height="54.2" fill="#7d7d7d"/><rect x="258.7" y="137.1" width="54.1" height="54.2" fill="#828282"/><rect x="312.3" y="137.1" width="54.1" height="54.2" fill="#898989"/><rect x="365.8" y="137.1" width="54.1" height="54.2" fill="#7b7b7b"/><rect x="419.4" y="137.1" width="54.1" height="54.2" fill="#6f6f6f"/><rect x="472.9" y="137.1" width="54.1" height="54.2" fill="#797979"/><rect x="526.5" y="137.1" width="54.1" height="54.2" fill="#666666"/><rect x="580.1" y="137.1" width="54.1" height="54.2" fill="#616161"/><rect x="633.6" y="137.1" width="54.1" height="54.2" fill="#6b6b6b"/><rect x="687.2" y="137.1" width="54.1" height="54.2" fill="#747474"/><rect x="740.7" y="137.1" width="54.1" height="54.2" fill="#727272"/><rect x="794.3" y="137.1" width="123.6" height="54.2" fill="#717171"/><rect x="28.0" y="190.7" width="124.1" height="54.2" fill="#7d7d7d"/><rect x="151.6" y="190.7" width="107.6" height="54.2" fill="#828282"/><rect x="258.7" y="190.7" width="54.1" height="54.2" fill="#797979"/><rect x="312.3" y="190.7" width="54.1" height="54.2" fill="#6d6d6d"/><rect x="365.8" y="190.7" width="54.1" height="54.2" fill="#797979"/><rect x="419.4" y="190.7" width="54.1" height="54.2" fill="#7d7d7d"/><rect x="472.9" y="190.7" width="54.1" height="54.2" fill="#5f5f5f"/><rect x="526.5" y="190.7" width="54.1" height="54.2" fill="#585858"/><rect x="580.1" y="190.7" width="54.1" height="54.2" fill="#5f5f5f"/><rect x="633.6" y="190.7" width="54.1" height="54.2" fill="#6d6d6d"/><rect x="687.2" y="190.7" width="54.1" height="54.2" fill="#7b7b7b"/><rect x="740.7" y="190.7" width="54.1" height="54.2" fill="#727272"/><rect x="794.3" y="190.7" width="123.6" height="54.2" fill="#6d6d6d"/><rect x="28.0" y="244.4" width="124.1" height="54.2" fill="#848484"/><rect x="151.6" y="244.4" width="54.1" height="54.2" fill="#868686"/><rect x="205.1" y="244.4" width="54.1" height="54.2" fill="#898989"/><rect x="258.7" y="244.4" width="54.1" height="54.2" fill="#7d7d7d"/><rect x="312.3" y="244.4" width="54.1" height="54.2" fill="#6f6f6f"/><rect x="365.8" y="244.4" width="54.1" height="54.2" fill="#7b7b7b"/><rect x="419.4" y="244.4" width="54.1" height="54.2" fill="#6f6f6f"/><rect x="472.9" y="244.4" width="54.1" height="54.2" fill="#5d5d5d"/><rect x="526.5" y="244.4" width="54.1" height="54.2" fill="#646464"/><rect x="580.1" y="244.4" width="54.1" height="54.2" fill="#666666"/><rect x="633.6" y="244.4" width="54.1" height="54.2" fill="#616161"/><rect x="687.2" y="244.4" width="107.6" height="54.2" fill="#6d6d6d"/><rect x="794.3" y="244.4" width="123.6" height="54.2" fill="#6c6c6c"/><rect x="28.0" y="298.0" width="124.1" height="54.2" fill="#909090"/><rect x="151.6" y="298.0" width="54.1" height="54.2" fill="#898989"/><rect x="205.1" y="298.0" width="54.1" height="54.2" fill="#8b8b8b"/><rect x="258.7" y="298.0" width="54.1" height="54.2" fill="#828282"/><rect x="312.3" y="298.0" width="54.1" height="54.2" fill="#797979"/><rect x="365.8" y="298.0" width="54.1" height="54.2" fill="#6b6b6b"/><rect x="419.4" y="298.0" width="54.1" height="54.2" fill="#616161"/><rect x="472.9" y="298.0" width="54.1" height="54.2" fill="#747474"/><rect x="526.5" y="298.0" width="54.1" height="54.2" fill="#797979"/><rect x="580.1" y="298.0" width="54.1" height="54.2" fill="#767676"/><rect x="633.6" y="298.0" width="54.1" height="54.2" fill="#6d6d6d"/><rect x="687.2" y="298.0" width="54.1" height="54.2" fill="#666666"/><rect x="740.7" y="298.0" width="54.1" height="54.2" fill="#6b6b6b"/><rect x="794.3" y="298.0" width="123.6" height="54.2" fill="#737373"/><rect x="28.0" y="351.7" width="124.1" height="54.2" fill="#929292"/><rect x="151.6" y="351.7" width="54.1" height="54.2" fill="#a2a2a2"/><rect x="205.1" y="351.7" width="54.1" height="54.2" fill="#848484"/><rect x="258.7" y="351.7" width="54.1" height="54.2" fill="#7b7b7b"/><rect x="312.3" y="351.7" width="54.1" height="54.2" fill="#868686"/><rect x="365.8" y="351.7" width="54.1" height="54.2" fill="#808080"/><rect x="419.4" y="351.7" width="54.1" height="54.2" fill="#747474"/><rect x="472.9" y="351.7" width="54.1" height="54.2" fill="#797979"/><rect x="526.5" y="351.7" width="107.6" height="54.2" fill="#808080"/><rect x="633.6" y="351.7" width="54.1" height="54.2" fill="#868686"/><rect x="687.2" y="351.7" width="54.1" height="54.2" fill="#909090"/><rect x="740.7" y="351.7" width="54.1" height="54.2" fill="#828282"/><rect x="794.3" y="351.7" width="123.6" height="54.2" fill="#7a7a7a"/><rect x="28.0" y="405.4" width="124.1" height="54.2" fill="#979797"/><rect x="151.6" y="405.4" width="107.6" height="54.2" fill="#8b8b8b"/><rect x="258.7" y="405.4" width="54.1" height="54.2" fill="#898989"/><rect x="312.3" y="405.4" width="54.1" height="54.2" fill="#7d7d7d"/><rect x="365.8" y="405.4" width="54.1" height="54.2" fill="#7b7b7b"/><rect x="419.4" y="405.4" width="54.1" height="54.2" fill="#808080"/><rect x="472.9" y="405.4" width="54.1" height="54.2" fill="#7b7b7b"/><rect x="526.5" y="405.4" width="54.1" height="54.2" fill="#7d7d7d"/><rect x="580.1" y="405.4" width="54.1" height="54.2" fill="#747474"/><rect x="633.6" y="405.4" width="54.1" height="54.2" fill="#909090"/><rect x="687.2" y="405.4" width="54.1" height="54.2" fill="#8b8b8b"/><rect x="740.7" y="405.4" width="54.1" height="54.2" fill="#828282"/><rect x="794.3" y="405.4" width="123.6" height="54.2" fill="#818181"/><rect x="28.0" y="459.0" width="124.1" height="54.2" fill="#8b8b8b"/><rect x="151.6" y="459.0" width="54.1" height="54.2" fill="#7e7e7e"/><rect x="205.1" y="459.0" width="54.1" height="54.2" fill="#797979"/><rect x="258.7" y="459.0" width="54.1" height="54.2" fill="#686868"/><rect x="312.3" y="459.0" width="54.1" height="54.2" fill="#7b7b7b"/><rect x="365.8" y="459.0" width="54.1" height="54.2" fill="#828282"/><rect x="419.4" y="459.0" width="54.1" height="54.2" fill="#8b8b8b"/><rect x="472.9" y="459.0" width="54.1" height="54.2" fill="#868686"/><rect x="526.5" y="459.0" width="107.6" height="54.2" fill="#7b7b7b"/><rect x="633.6" y="459.0" width="161.2" height="54.2" fill="#808080"/><rect x="794.3" y="459.0" width="123.6" height="54.2" fill="#818181"/><rect x="28.0" y="512.7" width="124.1" height="54.2" fill="#797979"/><rect x="151.6" y="512.7" width="54.1" height="54.2" fill="#707070"/><rect x="205.1" y="512.7" width="54.1" height="54.2" fill="#6b6b6b"/><rect x="258.7" y="512.7" width="54.1" height="54.2" fill="#6f6f6f"/><rect x="312.3" y="512.7" width="54.1" height="54.2" fill="#7b7b7b"/><rect x="365.8" y="512.7" width="107.6" height="54.2" fill="#828282"/><rect x="472.9" y="512.7" width="107.6" height="54.2" fill="#808080"/><rect x="580.1" y="512.7" width="54.1" height="54.2" fill="#868686"/><rect x="633.6" y="512.7" width="54.1" height="54.2" fill="#8b8b8b"/><rect x="687.2" y="512.7" width="54.1" height="54.2" fill="#949494"/><rect x="740.7" y="512.7" width="54.1" height="54.2" fill="#868686"/><rect x="794.3" y="512.7" width="123.6" height="54.2" fill="#808080"/><rect x="28.0" y="566.3" width="124.1" height="123.7" fill="#6e6e6e"/><rect x="151.6" y="566.3" width="54.1" height="123.7" fill="#6c6c6c"/><rect x="205.1" y="566.3" width="54.1" height="123.7" fill="#6d6d6d"/><rect x="258.7" y="566.3" width="54.1" height="123.7" fill="#747474"/><rect x="312.3" y="566.3" width="54.1" height="123.7" fill="#7b7b7b"/><rect x="365.8" y="566.3" width="54.1" height="123.7" fill="#7e7e7e"/><rect x="419.4" y="566.3" width="54.1" height="123.7" fill="#818181"/><rect x="472.9" y="566.3" width="54.1" height="123.7" fill="#808080"/><rect x="526.5" y="566.3" width="54.1" height="123.7" fill="#828282"/><rect x="580.1" y="566.3" width="54.1" height="123.7" fill="#868686"/><rect x="633.6" y="566.3" width="54.1" height="123.7" fill="#8d8d8d"/><rect x="687.2" y="566.3" width="54.1" height="123.7" fill="#909090"/><rect x="740.7" y="566.3" width="54.1" height="123.7" fill="#949494"/><rect x="794.3" y="566.3" width="123.6" height="123.7" fill="#898989"/></g>
<ellipse cx="534.2" cy="202.2" rx="24.9" ry="11.5" fill="#4f4f4f" filter="url(#b4)"/>
<ellipse cx="606.9" cy="200.3" rx="7.7" ry="6.7" fill="#464646" filter="url(#b4)"/>
<ellipse cx="610.7" cy="108.4" rx="9.6" ry="5.7" fill="#4f4f4f" filter="url(#b4)"/>
<ellipse cx="673.9" cy="127.6" rx="15.3" ry="7.7" fill="#4f4f4f" filter="url(#b4)"/>
<ellipse cx="689.2" cy="100.8" rx="11.5" ry="5.7" fill="#4f4f4f" transform="rotate(-25 689.2 100.8)" filter="url(#b4)"/>
<ellipse cx="606.9" cy="146.7" rx="9.6" ry="4.8" fill="#4f4f4f" filter="url(#b4)"/>
<ellipse cx="645.2" cy="267.2" rx="21.0" ry="9.6" fill="#4f4f4f" transform="rotate(-15 645.2 267.2)" filter="url(#b4)"/>
<ellipse cx="522.7" cy="278.7" rx="17.2" ry="17.2" fill="#4a4a4a" filter="url(#b6)"/>
<ellipse cx="501.7" cy="251.9" rx="7.7" ry="2.3" fill="#464646" filter="url(#b3)"/>
<ellipse cx="501.7" cy="167.7" rx="38.3" ry="6.7" fill="#8b8b8b" transform="rotate(-5 501.7 167.7)" filter="url(#b4)"/>
<ellipse cx="702.6" cy="206.0" rx="28.7" ry="7.7" fill="#868686" transform="rotate(-15 702.6 206.0)" filter="url(#b6)"/>
<polygon points="180.3,361.6 231.9,384.5 279.7,411.3 231.9,413.2 189.8,401.7" fill="#a7a7a7" filter="url(#b6)"/>
<polygon points="186.4,363.9 201.3,368.8 216.6,378.4 231.0,389.3 223.3,393.7 207.0,389.9 192.7,380.7" fill="#dcdcdc" filter="url(#b4)"/>
<ellipse cx="285.5" cy="493.6" rx="23.0" ry="15.3" fill="#5f5f5f" filter="url(#b8)"/>
<ellipse cx="664.3" cy="393.1" rx="11.5" ry="2.9" fill="#a2a2a2" filter="url(#b3)"/>
<ellipse cx="796.3" cy="507.9" rx="17.2" ry="2.9" fill="#a2a2a2" transform="rotate(-8 796.3 507.9)" filter="url(#b3)"/>
<ellipse cx="605.0" cy="440.0" rx="7.7" ry="5.7" fill="#5d5d5d" filter="url(#b4)"/>
<ellipse cx="582.0" cy="476.4" rx="7.7" ry="4.8" fill="#5d5d5d" filter="url(#b4)"/>
</g>
<g fill="#fff"><polygon points="452.1,372.1 458.3,367.9 469.0,369.8 470.5,375.9 467.4,377.4 469.7,383.6 465.9,385.1 461.3,382.8 458.3,376.7 452.9,374.4"/><polygon points="467.4,362.1 473.6,361.4 478.1,362.1 487.3,361.8 493.5,363.7 499.6,366.7 504.2,369.8 511.8,371.3 512.6,374.4 510.3,379.7 510.3,385.1 505.7,388.9 503.4,387.4 500.3,383.6 496.5,379.0 488.9,375.9 487.3,371.3 481.2,369.0 473.6,369.8 472.0,366.0 468.2,365.2"/><polygon points="473.6,379.0 481.2,377.4 484.3,379.7 482.7,382.0 475.1,382.0"/><polygon points="514.1,398.1 521.8,394.3 530.2,395.0 533.2,398.9 531.7,409.6 517.9,408.8 518.7,406.5 524.8,404.2 519.5,400.4"/><polygon points="507.2,391.2 511.0,392.0 510.3,397.3 507.2,397.3"/><polygon points="647.5,469.1 652.1,464.5 659.8,462.2 669.0,463.0 676.6,463.7 685.0,466.8 688.9,472.1 693.5,476.0 698.0,479.8 702.6,485.1 702.6,489.0 696.5,490.5 688.9,489.0 679.7,487.4 675.9,484.4 669.0,482.1 659.8,482.8 652.9,479.0 649.1,474.4"/><polygon points="699.6,496.6 706.5,493.6 709.5,496.6 716.4,495.9 722.5,499.7 714.1,498.9 708.8,502.0 704.9,498.9"/><polygon points="727.9,498.9 730.9,494.3 736.3,496.6 741.7,495.9 745.5,500.4 744.7,504.3 736.3,505.0 733.2,501.2"/><polygon points="714.1,483.6 718.7,482.1 718.7,485.9"/><polygon points="692.7,493.6 696.5,492.8 695.7,495.9"/><polygon points="725.6,506.6 730.2,506.2 730.2,508.1 726.4,508.1"/><polygon points="680.4,492.8 682.7,492.0 683.1,495.9 681.2,495.9"/><polygon points="331.2,513.2 344.0,511.8 353.9,509.3 358.8,500.4 361.7,506.3 367.6,509.3 370.6,514.2 363.7,518.5 349.9,519.1 342.0,516.2"/><polygon points="352.9,530.9 358.8,530.9 358.8,533.3 352.9,533.3"/><polygon points="265.2,294.6 269.2,295.2 276.1,299.5 275.1,301.9 270.2,299.1"/><polygon points="388.9,305.4 391.7,305.4 391.7,307.8 388.9,307.8"/><polygon points="434.2,329.1 437.4,329.1 437.4,332.2 434.2,332.2"/><polygon points="390.9,362.9 393.6,362.9 393.6,365.7 390.9,365.7"/><polygon points="320.4,492.5 322.7,492.5 322.7,494.9 320.4,494.9"/></g>
</g>
<path d="M88.7 49.3H859.6V591.2" fill="none" stroke="#666" stroke-width="1.3"/>
<path d="M88.7 48.599999999999994V591.2H860.2" fill="none" stroke="#111" stroke-width="1.5"/>
<path d="M124.8 591.2v-6.5M124.8 49.3v6.5M231.9 591.2v-6.5M231.9 49.3v6.5M339.0 591.2v-6.5M339.0 49.3v6.5M446.2 591.2v-6.5M446.2 49.3v6.5M553.3 591.2v-6.5M553.3 49.3v6.5M660.4 591.2v-6.5M660.4 49.3v6.5M767.5 591.2v-6.5M767.5 49.3v6.5M88.7 83.4h6.5M859.6 83.4h-6.5M88.7 190.7h6.5M859.6 190.7h-6.5M88.7 298.0h6.5M859.6 298.0h-6.5M88.7 405.4h6.5M859.6 405.4h-6.5M88.7 512.7h6.5M859.6 512.7h-6.5" stroke="#000" stroke-width="1.4" fill="none"/>
<g font-size="27.7" fill="#000">
<text x="124.8" y="619.4" text-anchor="middle">16.0</text>
<text x="231.9" y="619.4" text-anchor="middle">16.2</text>
<text x="339.0" y="619.4" text-anchor="middle">16.4</text>
<text x="446.2" y="619.4" text-anchor="middle">16.6</text>
<text x="553.3" y="619.4" text-anchor="middle">16.8</text>
<text x="660.4" y="619.4" text-anchor="middle">17.0</text>
<text x="767.5" y="619.4" text-anchor="middle">17.2</text>
<text x="80.9" y="95.7" text-anchor="end">46.0</text>
<text x="80.9" y="203.0" text-anchor="end">45.8</text>
<text x="80.9" y="310.3" text-anchor="end">45.6</text>
<text x="80.9" y="417.7" text-anchor="end">45.4</text>
<text x="80.9" y="525.0" text-anchor="end">45.2</text>
<text x="474.2" y="40.6" text-anchor="middle">20210424</text>
<rect x="874.4" y="73.9" width="16.2" height="492.6" fill="url(#cb)"/>
<path d="M874.4 74.2L882.5 49.3L890.6 74.2z" fill="#800000"/>
<path d="M874.4 566.3L882.5 591.2L890.6 566.3z" fill="#000080"/>
<path d="M874.4 73.9L882.5 49.3L890.6 73.9V566.6L882.5 591.2L874.4 566.6z" fill="none" stroke="#000" stroke-opacity=".55" stroke-width="1.2" stroke-linejoin="round"/>
<text x="903.8" y="85.7">6</text>
<text x="903.8" y="175.3">4</text>
<text x="903.8" y="264.9">2</text>
<text x="903.8" y="354.4">0</text>
<text x="903.8" y="444.0">-2</text>
<text x="903.8" y="533.6">-4</text>
<path d="M890.6 73.9h5.5M890.6 163.5h5.5M890.6 253.1h5.5M890.6 342.6h5.5M890.6 432.2h5.5M890.6 521.8h5.5" stroke="#000" stroke-width="1.4" fill="none"/>
<text transform="translate(960.2 322.8) rotate(-90)" text-anchor="middle">cm</text>
<path d="M174.6 522V536.8H311V522" fill="none" stroke="#000" stroke-width="2.6"/>
<text x="242.4" y="518.1" text-anchor="middle">20 km</text>
</g>
<rect x="333.3" y="238.7" width="11.4" height="11.4" fill="#000"/>
</g>
<g transform="translate(0.0 1251.6)">
<g clip-path="url(#foot)"><g filter="url(#jet)">
<rect x="88.7" y="49.3" width="770.9" height="541.9" fill="#5f5f5f"/>
<g filter="url(#b20)" shape-rendering="crispEdges"><rect x="28.0" y="-40.3" width="124.1" height="124.2" fill="#8b8b8b"/><rect x="151.6" y="-40.3" width="54.1" height="124.2" fill="#888888"/><rect x="205.1" y="-40.3" width="54.1" height="124.2" fill="#7c7c7c"/><rect x="258.7" y="-40.3" width="54.1" height="124.2" fill="#616161"/><rect x="312.3" y="-40.3" width="54.1" height="124.2" fill="#424242"/><rect x="365.8" y="-40.3" width="107.6" height="124.2" fill="#303030"/><rect x="472.9" y="-40.3" width="54.1" height="124.2" fill="#383838"/><rect x="526.5" y="-40.3" width="54.1" height="124.2" fill="#3e3e3e"/><rect x="580.1" y="-40.3" width="54.1" height="124.2" fill="#3f3f3f"/><rect x="633.6" y="-40.3" width="54.1" height="124.2" fill="#3a3a3a"/><rect x="687.2" y="-40.3" width="54.1" height="124.2" fill="#3f3f3f"/><rect x="740.7" y="-40.3" width="54.1" height="124.2" fill="#3c3c3c"/><rect x="794.3" y="-40.3" width="123.6" height="124.2" fill="#3d3d3d"/><rect x="28.0" y="83.4" width="124.1" height="54.2" fill="#8d8d8d"/><rect x="151.6" y="83.4" width="54.1" height="54.2" fill="#8b8b8b"/><rect x="205.1" y="83.4" width="54.1" height="54.2" fill="#848484"/><rect x="258.7" y="83.4" width="54.1" height="54.2" fill="#666666"/><rect x="312.3" y="83.4" width="54.1" height="54.2" fill="#3a3a3a"/><rect x="365.8" y="83.4" width="54.1" height="54.2" fill="#272727"/><rect x="419.4" y="83.4" width="54.1" height="54.2" fill="#2e2e2e"/><rect x="472.9" y="83.4" width="54.1" height="54.2" fill="#3a3a3a"/><rect x="526.5" y="83.4" width="54.1" height="54.2" fill="#3f3f3f"/><rect x="580.1" y="83.4" width="107.6" height="54.2" fill="#414141"/><rect x="687.2" y="83.4" width="54.1" height="54.2" fill="#3a3a3a"/><rect x="740.7" y="83.4" width="54.1" height="54.2" fill="#3e3e3e"/><rect x="794.3" y="83.4" width="123.6" height="54.2" fill="#4e4e4e"/><rect x="28.0" y="137.1" width="124.1" height="54.2" fill="#909090"/><rect x="151.6" y="137.1" width="54.1" height="54.2" fill="#8d8d8d"/><rect x="205.1" y="137.1" width="54.1" height="54.2" fill="#808080"/><rect x="258.7" y="137.1" width="54.1" height="54.2" fill="#6d6d6d"/><rect x="312.3" y="137.1" width="54.1" height="54.2" fill="#515151"/><rect x="365.8" y="137.1" width="54.1" height="54.2" fill="#252525"/><rect x="419.4" y="137.1" width="54.1" height="54.2" fill="#202020"/><rect x="472.9" y="137.1" width="54.1" height="54.2" fill="#232323"/><rect x="526.5" y="137.1" width="107.6" height="54.2" fill="#2e2e2e"/><rect x="633.6" y="137.1" width="54.1" height="54.2" fill="#333333"/><rect x="687.2" y="137.1" width="54.1" height="54.2" fill="#414141"/><rect x="740.7" y="137.1" width="54.1" height="54.2" fill="#4f4f4f"/><rect x="794.3" y="137.1" width="123.6" height="54.2" fill="#6d6d6d"/><rect x="28.0" y="190.7" width="124.1" height="54.2" fill="#909090"/><rect x="151.6" y="190.7" width="54.1" height="54.2" fill="#929292"/><rect x="205.1" y="190.7" width="54.1" height="54.2" fill="#848484"/><rect x="258.7" y="190.7" width="54.1" height="54.2" fill="#747474"/><rect x="312.3" y="190.7" width="54.1" height="54.2" fill="#5d5d5d"/><rect x="365.8" y="190.7" width="54.1" height="54.2" fill="#414141"/><rect x="419.4" y="190.7" width="54.1" height="54.2" fill="#2e2e2e"/><rect x="472.9" y="190.7" width="54.1" height="54.2" fill="#171717"/><rect x="526.5" y="190.7" width="54.1" height="54.2" fill="#131313"/><rect x="580.1" y="190.7" width="54.1" height="54.2" fill="#171717"/><rect x="633.6" y="190.7" width="54.1" height="54.2" fill="#2e2e2e"/><rect x="687.2" y="190.7" width="54.1" height="54.2" fill="#565656"/><rect x="740.7" y="190.7" width="54.1" height="54.2" fill="#6d6d6d"/><rect x="794.3" y="190.7" width="123.6" height="54.2" fill="#5c5c5c"/><rect x="28.0" y="244.4" width="124.1" height="54.2" fill="#8a8a8a"/><rect x="151.6" y="244.4" width="54.1" height="54.2" fill="#8b8b8b"/><rect x="205.1" y="244.4" width="54.1" height="54.2" fill="#7b7b7b"/><rect x="258.7" y="244.4" width="54.1" height="54.2" fill="#6d6d6d"/><rect x="312.3" y="244.4" width="54.1" height="54.2" fill="#616161"/><rect x="365.8" y="244.4" width="54.1" height="54.2" fill="#4f4f4f"/><rect x="419.4" y="244.4" width="54.1" height="54.2" fill="#4a4a4a"/><rect x="472.9" y="244.4" width="107.6" height="54.2" fill="#515151"/><rect x="580.1" y="244.4" width="54.1" height="54.2" fill="#565656"/><rect x="633.6" y="244.4" width="54.1" height="54.2" fill="#464646"/><rect x="687.2" y="244.4" width="54.1" height="54.2" fill="#515151"/><rect x="740.7" y="244.4" width="54.1" height="54.2" fill="#4a4a4a"/><rect x="794.3" y="244.4" width="123.6" height="54.2" fill="#505050"/><rect x="28.0" y="298.0" width="124.1" height="54.2" fill="#828282"/><rect x="151.6" y="298.0" width="54.1" height="54.2" fill="#7b7b7b"/><rect x="205.1" y="298.0" width="54.1" height="54.2" fill="#6d6d6d"/><rect x="258.7" y="298.0" width="107.6" height="54.2" fill="#515151"/><rect x="365.8" y="298.0" width="54.1" height="54.2" fill="#464646"/><rect x="419.4" y="298.0" width="54.1" height="54.2" fill="#4a4a4a"/><rect x="472.9" y="298.0" width="54.1" height="54.2" fill="#6d6d6d"/><rect x="526.5" y="298.0" width="54.1" height="54.2" fill="#4a4a4a"/><rect x="580.1" y="298.0" width="54.1" height="54.2" fill="#3f3f3f"/><rect x="633.6" y="298.0" width="54.1" height="54.2" fill="#333333"/><rect x="687.2" y="298.0" width="54.1" height="54.2" fill="#2e2e2e"/><rect x="740.7" y="298.0" width="54.1" height="54.2" fill="#383838"/><rect x="794.3" y="298.0" width="123.6" height="54.2" fill="#505050"/><rect x="28.0" y="351.7" width="124.1" height="54.2" fill="#787878"/><rect x="151.6" y="351.7" width="54.1" height="54.2" fill="#808080"/><rect x="205.1" y="351.7" width="54.1" height="54.2" fill="#565656"/><rect x="258.7" y="351.7" width="107.6" height="54.2" fill="#4a4a4a"/><rect x="365.8" y="351.7" width="107.6" height="54.2" fill="#5d5d5d"/><rect x="472.9" y="351.7" width="54.1" height="54.2" fill="#515151"/><rect x="526.5" y="351.7" width="54.1" height="54.2" fill="#686868"/><rect x="580.1" y="351.7" width="107.6" height="54.2" fill="#565656"/><rect x="687.2" y="351.7" width="54.1" height="54.2" fill="#616161"/><rect x="740.7" y="351.7" width="54.1" height="54.2" fill="#6d6d6d"/><rect x="794.3" y="351.7" width="123.6" height="54.2" fill="#5c5c5c"/><rect x="28.0" y="405.4" width="124.1" height="54.2" fill="#767676"/><rect x="151.6" y="405.4" width="54.1" height="54.2" fill="#6d6d6d"/><rect x="205.1" y="405.4" width="54.1" height="54.2" fill="#4a4a4a"/><rect x="258.7" y="405.4" width="54.1" height="54.2" fill="#565656"/><rect x="312.3" y="405.4" width="54.1" height="54.2" fill="#464646"/><rect x="365.8" y="405.4" width="54.1" height="54.2" fill="#4a4a4a"/><rect x="419.4" y="405.4" width="54.1" height="54.2" fill="#585858"/><rect x="472.9" y="405.4" width="54.1" height="54.2" fill="#5d5d5d"/><rect x="526.5" y="405.4" width="107.6" height="54.2" fill="#6d6d6d"/><rect x="633.6" y="405.4" width="54.1" height="54.2" fill="#808080"/><rect x="687.2" y="405.4" width="54.1" height="54.2" fill="#7b7b7b"/><rect x="740.7" y="405.4" width="54.1" height="54.2" fill="#6f6f6f"/><rect x="794.3" y="405.4" width="123.6" height="54.2" fill="#6d6d6d"/><rect x="28.0" y="459.0" width="124.1" height="54.2" fill="#6d6d6d"/><rect x="151.6" y="459.0" width="54.1" height="54.2" fill="#646464"/><rect x="205.1" y="459.0" width="54.1" height="54.2" fill="#5d5d5d"/><rect x="258.7" y="459.0" width="54.1" height="54.2" fill="#6d6d6d"/><rect x="312.3" y="459.0" width="54.1" height="54.2" fill="#797979"/><rect x="365.8" y="459.0" width="54.1" height="54.2" fill="#6f6f6f"/><rect x="419.4" y="459.0" width="54.1" height="54.2" fill="#6d6d6d"/><rect x="472.9" y="459.0" width="54.1" height="54.2" fill="#7b7b7b"/><rect x="526.5" y="459.0" width="54.1" height="54.2" fill="#808080"/><rect x="580.1" y="459.0" width="54.1" height="54.2" fill="#828282"/><rect x="633.6" y="459.0" width="54.1" height="54.2" fill="#797979"/><rect x="687.2" y="459.0" width="54.1" height="54.2" fill="#6d6d6d"/><rect x="740.7" y="459.0" width="54.1" height="54.2" fill="#6b6b6b"/><rect x="794.3" y="459.0" width="123.6" height="54.2" fill="#6d6d6d"/><rect x="28.0" y="512.7" width="124.1" height="54.2" fill="#6e6e6e"/><rect x="151.6" y="512.7" width="54.1" height="54.2" fill="#6e6e6e"/><rect x="205.1" y="512.7" width="54.1" height="54.2" fill="#7b7b7b"/><rect x="258.7" y="512.7" width="54.1" height="54.2" fill="#747474"/><rect x="312.3" y="512.7" width="54.1" height="54.2" fill="#7b7b7b"/><rect x="365.8" y="512.7" width="107.6" height="54.2" fill="#8b8b8b"/><rect x="472.9" y="512.7" width="54.1" height="54.2" fill="#868686"/><rect x="526.5" y="512.7" width="54.1" height="54.2" fill="#808080"/><rect x="580.1" y="512.7" width="54.1" height="54.2" fill="#747474"/><rect x="633.6" y="512.7" width="54.1" height="54.2" fill="#686868"/><rect x="687.2" y="512.7" width="54.1" height="54.2" fill="#747474"/><rect x="740.7" y="512.7" width="54.1" height="54.2" fill="#6e6e6e"/><rect x="794.3" y="512.7" width="123.6" height="54.2" fill="#6b6b6b"/><rect x="28.0" y="566.3" width="124.1" height="123.7" fill="#737373"/><rect x="151.6" y="566.3" width="54.1" height="123.7" fill="#777777"/><rect x="205.1" y="566.3" width="107.6" height="123.7" fill="#747474"/><rect x="312.3" y="566.3" width="54.1" height="123.7" fill="#7b7b7b"/><rect x="365.8" y="566.3" width="54.1" height="123.7" fill="#838383"/><rect x="419.4" y="566.3" width="54.1" height="123.7" fill="#8a8a8a"/><rect x="472.9" y="566.3" width="54.1" height="123.7" fill="#868686"/><rect x="526.5" y="566.3" width="54.1" height="123.7" fill="#7e7e7e"/><rect x="580.1" y="566.3" width="54.1" height="123.7" fill="#747474"/><rect x="633.6" y="566.3" width="54.1" height="123.7" fill="#707070"/><rect x="687.2" y="566.3" width="54.1" height="123.7" fill="#6e6e6e"/><rect x="740.7" y="566.3" width="54.1" height="123.7" fill="#747474"/><rect x="794.3" y="566.3" width="123.6" height="123.7" fill="#6f6f6f"/></g>
<polygon points="345.4,112.3 470.0,93.4 496.5,144.4 470.0,210.5 411.5,201.0 383.2,163.3" fill="#232323" filter="url(#b10)"/>
<polygon points="421.7,129.3 450.0,135.0 506.6,155.7 563.3,174.6 619.9,159.5 667.1,167.0 657.7,210.5 619.9,229.3 544.4,229.3 487.8,219.9 450.0,201.0 421.7,182.2" fill="#202020" filter="url(#b10)"/>
<ellipse cx="587.8" cy="116.1" rx="61.2" ry="17.2" fill="#414141" transform="rotate(-5 587.8 116.1)" filter="url(#b10)"/>
<ellipse cx="496.0" cy="317.0" rx="38.3" ry="30.6" fill="#767676" filter="url(#b16)"/>
<ellipse cx="529.3" cy="201.0" rx="37.8" ry="11.3" fill="#090909" transform="rotate(10 529.3 201.0)" filter="url(#b6)"/>
<ellipse cx="610.5" cy="199.1" rx="11.3" ry="7.6" fill="#090909" filter="url(#b4)"/>
<ellipse cx="482.1" cy="189.7" rx="15.1" ry="5.7" fill="#090909" filter="url(#b4)"/>
<polygon points="544.4,298.7 767.2,298.7 778.5,359.1 714.3,370.4 619.9,366.6 553.8,351.5" fill="#272727" filter="url(#b10)"/>
<ellipse cx="653.9" cy="334.5" rx="18.9" ry="9.4" fill="#1c1c1c" filter="url(#b6)"/>
<ellipse cx="727.5" cy="219.9" rx="11.3" ry="28.3" fill="#686868" transform="rotate(-15 727.5 219.9)" filter="url(#b8)"/>
<ellipse cx="585.9" cy="280.3" rx="43.4" ry="13.2" fill="#6d6d6d" filter="url(#b10)"/>
<ellipse cx="298.2" cy="362.9" rx="47.2" ry="20.8" fill="#414141" transform="rotate(20 298.2 362.9)" filter="url(#b8)"/>
<ellipse cx="364.3" cy="438.4" rx="56.6" ry="15.1" fill="#414141" transform="rotate(25 364.3 438.4)" filter="url(#b8)"/>
<ellipse cx="237.8" cy="445.9" rx="24.5" ry="24.5" fill="#414141" filter="url(#b10)"/>
<polygon points="189.8,366.3 205.1,370.7 225.2,384.5 217.6,388.7 201.3,383.0" fill="#a7a7a7" filter="url(#b3)"/>
<ellipse cx="147.2" cy="172.7" rx="22.7" ry="28.3" fill="#949494" filter="url(#b12)"/>
<ellipse cx="169.9" cy="238.8" rx="28.3" ry="18.9" fill="#949494" filter="url(#b12)"/>
<ellipse cx="430.4" cy="555.4" rx="11.3" ry="5.7" fill="#9e9e9e" filter="url(#b4)"/>
</g>
<g fill="#fff"><polygon points="452.1,372.1 458.3,367.9 469.0,369.8 470.5,375.9 467.4,377.4 469.7,383.6 465.9,385.1 461.3,382.8 458.3,376.7 452.9,374.4"/><polygon points="467.4,362.1 473.6,361.4 478.1,362.1 487.3,361.8 493.5,363.7 499.6,366.7 504.2,369.8 511.8,371.3 512.6,374.4 510.3,379.7 510.3,385.1 505.7,388.9 503.4,387.4 500.3,383.6 496.5,379.0 488.9,375.9 487.3,371.3 481.2,369.0 473.6,369.8 472.0,366.0 468.2,365.2"/><polygon points="473.6,379.0 481.2,377.4 484.3,379.7 482.7,382.0 475.1,382.0"/><polygon points="514.1,398.1 521.8,394.3 530.2,395.0 533.2,398.9 531.7,409.6 517.9,408.8 518.7,406.5 524.8,404.2 519.5,400.4"/><polygon points="507.2,391.2 511.0,392.0 510.3,397.3 507.2,397.3"/><polygon points="647.5,469.1 652.1,464.5 659.8,462.2 669.0,463.0 676.6,463.7 685.0,466.8 688.9,472.1 693.5,476.0 698.0,479.8 702.6,485.1 702.6,489.0 696.5,490.5 688.9,489.0 679.7,487.4 675.9,484.4 669.0,482.1 659.8,482.8 652.9,479.0 649.1,474.4"/><polygon points="699.6,496.6 706.5,493.6 709.5,496.6 716.4,495.9 722.5,499.7 714.1,498.9 708.8,502.0 704.9,498.9"/><polygon points="727.9,498.9 730.9,494.3 736.3,496.6 741.7,495.9 745.5,500.4 744.7,504.3 736.3,505.0 733.2,501.2"/><polygon points="714.1,483.6 718.7,482.1 718.7,485.9"/><polygon points="692.7,493.6 696.5,492.8 695.7,495.9"/><polygon points="725.6,506.6 730.2,506.2 730.2,508.1 726.4,508.1"/><polygon points="680.4,492.8 682.7,492.0 683.1,495.9 681.2,495.9"/><polygon points="331.2,513.2 344.0,511.8 353.9,509.3 358.8,500.4 361.7,506.3 367.6,509.3 370.6,514.2 363.7,518.5 349.9,519.1 342.0,516.2"/><polygon points="352.9,530.9 358.8,530.9 358.8,533.3 352.9,533.3"/><polygon points="265.2,294.6 269.2,295.2 276.1,299.5 275.1,301.9 270.2,299.1"/><polygon points="388.9,305.4 391.7,305.4 391.7,307.8 388.9,307.8"/><polygon points="434.2,329.1 437.4,329.1 437.4,332.2 434.2,332.2"/><polygon points="390.9,362.9 393.6,362.9 393.6,365.7 390.9,365.7"/><polygon points="320.4,492.5 322.7,492.5 322.7,494.9 320.4,494.9"/></g>
</g>
<path d="M88.7 49.3H859.6V591.2" fill="none" stroke="#666" stroke-width="1.3"/>
<path d="M88.7 48.599999999999994V591.2H860.2" fill="none" stroke="#111" stroke-width="1.5"/>
<path d="M124.8 591.2v-6.5M124.8 49.3v6.5M231.9 591.2v-6.5M231.9 49.3v6.5M339.0 591.2v-6.5M339.0 49.3v6.5M446.2 591.2v-6.5M446.2 49.3v6.5M553.3 591.2v-6.5M553.3 49.3v6.5M660.4 591.2v-6.5M660.4 49.3v6.5M767.5 591.2v-6.5M767.5 49.3v6.5M88.7 83.4h6.5M859.6 83.4h-6.5M88.7 190.7h6.5M859.6 190.7h-6.5M88.7 298.0h6.5M859.6 298.0h-6.5M88.7 405.4h6.5M859.6 405.4h-6.5M88.7 512.7h6.5M859.6 512.7h-6.5" stroke="#000" stroke-width="1.4" fill="none"/>
<g font-size="27.7" fill="#000">
<text x="124.8" y="619.4" text-anchor="middle">16.0</text>
<text x="231.9" y="619.4" text-anchor="middle">16.2</text>
<text x="339.0" y="619.4" text-anchor="middle">16.4</text>
<text x="446.2" y="619.4" text-anchor="middle">16.6</text>
<text x="553.3" y="619.4" text-anchor="middle">16.8</text>
<text x="660.4" y="619.4" text-anchor="middle">17.0</text>
<text x="767.5" y="619.4" text-anchor="middle">17.2</text>
<text x="80.9" y="95.7" text-anchor="end">46.0</text>
<text x="80.9" y="203.0" text-anchor="end">45.8</text>
<text x="80.9" y="310.3" text-anchor="end">45.6</text>
<text x="80.9" y="417.7" text-anchor="end">45.4</text>
<text x="80.9" y="525.0" text-anchor="end">45.2</text>
<text x="474.2" y="40.6" text-anchor="middle">20210530</text>
<rect x="874.4" y="73.9" width="16.2" height="492.6" fill="url(#cb)"/>
<path d="M874.4 74.2L882.5 49.3L890.6 74.2z" fill="#800000"/>
<path d="M874.4 566.3L882.5 591.2L890.6 566.3z" fill="#000080"/>
<path d="M874.4 73.9L882.5 49.3L890.6 73.9V566.6L882.5 591.2L874.4 566.6z" fill="none" stroke="#000" stroke-opacity=".55" stroke-width="1.2" stroke-linejoin="round"/>
<text x="903.8" y="85.7">6</text>
<text x="903.8" y="175.3">4</text>
<text x="903.8" y="264.9">2</text>
<text x="903.8" y="354.4">0</text>
<text x="903.8" y="444.0">-2</text>
<text x="903.8" y="533.6">-4</text>
<path d="M890.6 73.9h5.5M890.6 163.5h5.5M890.6 253.1h5.5M890.6 342.6h5.5M890.6 432.2h5.5M890.6 521.8h5.5" stroke="#000" stroke-width="1.4" fill="none"/>
<text transform="translate(960.2 322.8) rotate(-90)" text-anchor="middle">cm</text>
<path d="M174.6 522V536.8H311V522" fill="none" stroke="#000" stroke-width="2.6"/>
<text x="242.4" y="518.1" text-anchor="middle">20 km</text>
</g>
<rect x="333.3" y="238.7" width="11.4" height="11.4" fill="#000"/>
</g>
<g transform="translate(999.9 1251.6)">
<g clip-path="url(#foot)"><g filter="url(#jet)">
<rect x="88.7" y="49.3" width="770.9" height="541.9" fill="#929292"/>
<g filter="url(#b20)" shape-rendering="crispEdges"><rect x="28.0" y="-40.3" width="177.6" height="124.2" fill="#7b7b7b"/><rect x="205.1" y="-40.3" width="54.1" height="124.2" fill="#7c7c7c"/><rect x="258.7" y="-40.3" width="54.1" height="124.2" fill="#808080"/><rect x="312.3" y="-40.3" width="54.1" height="124.2" fill="#848484"/><rect x="365.8" y="-40.3" width="54.1" height="124.2" fill="#838383"/><rect x="419.4" y="-40.3" width="54.1" height="124.2" fill="#777777"/><rect x="472.9" y="-40.3" width="54.1" height="124.2" fill="#707070"/><rect x="526.5" y="-40.3" width="54.1" height="124.2" fill="#818181"/><rect x="580.1" y="-40.3" width="54.1" height="124.2" fill="#929292"/><rect x="633.6" y="-40.3" width="54.1" height="124.2" fill="#909090"/><rect x="687.2" y="-40.3" width="54.1" height="124.2" fill="#868686"/><rect x="740.7" y="-40.3" width="54.1" height="124.2" fill="#8f8f8f"/><rect x="794.3" y="-40.3" width="123.6" height="124.2" fill="#969696"/><rect x="28.0" y="83.4" width="124.1" height="54.2" fill="#7e7e7e"/><rect x="151.6" y="83.4" width="107.6" height="54.2" fill="#7b7b7b"/><rect x="258.7" y="83.4" width="54.1" height="54.2" fill="#808080"/><rect x="312.3" y="83.4" width="54.1" height="54.2" fill="#848484"/><rect x="365.8" y="83.4" width="54.1" height="54.2" fill="#898989"/><rect x="419.4" y="83.4" width="54.1" height="54.2" fill="#7b7b7b"/><rect x="472.9" y="83.4" width="54.1" height="54.2" fill="#616161"/><rect x="526.5" y="83.4" width="54.1" height="54.2" fill="#747474"/><rect x="580.1" y="83.4" width="54.1" height="54.2" fill="#9e9e9e"/><rect x="633.6" y="83.4" width="54.1" height="54.2" fill="#a2a2a2"/><rect x="687.2" y="83.4" width="54.1" height="54.2" fill="#979797"/><rect x="740.7" y="83.4" width="54.1" height="54.2" fill="#9d9d9d"/><rect x="794.3" y="83.4" width="123.6" height="54.2" fill="#a2a2a2"/><rect x="28.0" y="137.1" width="124.1" height="54.2" fill="#848484"/><rect x="151.6" y="137.1" width="54.1" height="54.2" fill="#7b7b7b"/><rect x="205.1" y="137.1" width="107.6" height="54.2" fill="#616161"/><rect x="312.3" y="137.1" width="54.1" height="54.2" fill="#6d6d6d"/><rect x="365.8" y="137.1" width="54.1" height="54.2" fill="#8b8b8b"/><rect x="419.4" y="137.1" width="54.1" height="54.2" fill="#808080"/><rect x="472.9" y="137.1" width="54.1" height="54.2" fill="#5d5d5d"/><rect x="526.5" y="137.1" width="54.1" height="54.2" fill="#6f6f6f"/><rect x="580.1" y="137.1" width="54.1" height="54.2" fill="#9e9e9e"/><rect x="633.6" y="137.1" width="54.1" height="54.2" fill="#b0b0b0"/><rect x="687.2" y="137.1" width="54.1" height="54.2" fill="#b9b9b9"/><rect x="740.7" y="137.1" width="54.1" height="54.2" fill="#bcbcbc"/><rect x="794.3" y="137.1" width="123.6" height="54.2" fill="#a7a7a7"/><rect x="28.0" y="190.7" width="124.1" height="54.2" fill="#8b8b8b"/><rect x="151.6" y="190.7" width="54.1" height="54.2" fill="#7b7b7b"/><rect x="205.1" y="190.7" width="54.1" height="54.2" fill="#3f3f3f"/><rect x="258.7" y="190.7" width="54.1" height="54.2" fill="#2e2e2e"/><rect x="312.3" y="190.7" width="54.1" height="54.2" fill="#464646"/><rect x="365.8" y="190.7" width="54.1" height="54.2" fill="#6d6d6d"/><rect x="419.4" y="190.7" width="54.1" height="54.2" fill="#7b7b7b"/><rect x="472.9" y="190.7" width="54.1" height="54.2" fill="#6d6d6d"/><rect x="526.5" y="190.7" width="54.1" height="54.2" fill="#808080"/><rect x="580.1" y="190.7" width="54.1" height="54.2" fill="#9e9e9e"/><rect x="633.6" y="190.7" width="54.1" height="54.2" fill="#cccccc"/><rect x="687.2" y="190.7" width="54.1" height="54.2" fill="#e3e3e3"/><rect x="740.7" y="190.7" width="54.1" height="54.2" fill="#b1b1b1"/><rect x="794.3" y="190.7" width="123.6" height="54.2" fill="#929292"/><rect x="28.0" y="244.4" width="124.1" height="54.2" fill="#898989"/><rect x="151.6" y="244.4" width="54.1" height="54.2" fill="#8b8b8b"/><rect x="205.1" y="244.4" width="54.1" height="54.2" fill="#616161"/><rect x="258.7" y="244.4" width="54.1" height="54.2" fill="#464646"/><rect x="312.3" y="244.4" width="54.1" height="54.2" fill="#565656"/><rect x="365.8" y="244.4" width="54.1" height="54.2" fill="#7b7b7b"/><rect x="419.4" y="244.4" width="54.1" height="54.2" fill="#8b8b8b"/><rect x="472.9" y="244.4" width="54.1" height="54.2" fill="#9b9b9b"/><rect x="526.5" y="244.4" width="54.1" height="54.2" fill="#9e9e9e"/><rect x="580.1" y="244.4" width="54.1" height="54.2" fill="#a9a9a9"/><rect x="633.6" y="244.4" width="54.1" height="54.2" fill="#a2a2a2"/><rect x="687.2" y="244.4" width="54.1" height="54.2" fill="#979797"/><rect x="740.7" y="244.4" width="54.1" height="54.2" fill="#929292"/><rect x="794.3" y="244.4" width="123.6" height="54.2" fill="#939393"/><rect x="28.0" y="298.0" width="124.1" height="54.2" fill="#919191"/><rect x="151.6" y="298.0" width="107.6" height="54.2" fill="#929292"/><rect x="258.7" y="298.0" width="54.1" height="54.2" fill="#5d5d5d"/><rect x="312.3" y="298.0" width="54.1" height="54.2" fill="#616161"/><rect x="365.8" y="298.0" width="54.1" height="54.2" fill="#6d6d6d"/><rect x="419.4" y="298.0" width="54.1" height="54.2" fill="#929292"/><rect x="472.9" y="298.0" width="54.1" height="54.2" fill="#9e9e9e"/><rect x="526.5" y="298.0" width="54.1" height="54.2" fill="#acacac"/><rect x="580.1" y="298.0" width="54.1" height="54.2" fill="#c0c0c0"/><rect x="633.6" y="298.0" width="54.1" height="54.2" fill="#acacac"/><rect x="687.2" y="298.0" width="54.1" height="54.2" fill="#979797"/><rect x="740.7" y="298.0" width="54.1" height="54.2" fill="#949494"/><rect x="794.3" y="298.0" width="123.6" height="54.2" fill="#a6a6a6"/><rect x="28.0" y="351.7" width="124.1" height="54.2" fill="#8d8d8d"/><rect x="151.6" y="351.7" width="54.1" height="54.2" fill="#979797"/><rect x="205.1" y="351.7" width="54.1" height="54.2" fill="#808080"/><rect x="258.7" y="351.7" width="54.1" height="54.2" fill="#828282"/><rect x="312.3" y="351.7" width="54.1" height="54.2" fill="#808080"/><rect x="365.8" y="351.7" width="54.1" height="54.2" fill="#686868"/><rect x="419.4" y="351.7" width="54.1" height="54.2" fill="#7b7b7b"/><rect x="472.9" y="351.7" width="54.1" height="54.2" fill="#8b8b8b"/><rect x="526.5" y="351.7" width="54.1" height="54.2" fill="#b9b9b9"/><rect x="580.1" y="351.7" width="54.1" height="54.2" fill="#b0b0b0"/><rect x="633.6" y="351.7" width="54.1" height="54.2" fill="#bebebe"/><rect x="687.2" y="351.7" width="54.1" height="54.2" fill="#c3c3c3"/><rect x="740.7" y="351.7" width="54.1" height="54.2" fill="#cccccc"/><rect x="794.3" y="351.7" width="123.6" height="54.2" fill="#a4a4a4"/><rect x="28.0" y="405.4" width="124.1" height="54.2" fill="#8b8b8b"/><rect x="151.6" y="405.4" width="54.1" height="54.2" fill="#808080"/><rect x="205.1" y="405.4" width="54.1" height="54.2" fill="#6d6d6d"/><rect x="258.7" y="405.4" width="54.1" height="54.2" fill="#6f6f6f"/><rect x="312.3" y="405.4" width="54.1" height="54.2" fill="#7b7b7b"/><rect x="365.8" y="405.4" width="54.1" height="54.2" fill="#808080"/><rect x="419.4" y="405.4" width="54.1" height="54.2" fill="#868686"/><rect x="472.9" y="405.4" width="54.1" height="54.2" fill="#686868"/><rect x="526.5" y="405.4" width="54.1" height="54.2" fill="#999999"/><rect x="580.1" y="405.4" width="54.1" height="54.2" fill="#a2a2a2"/><rect x="633.6" y="405.4" width="54.1" height="54.2" fill="#b9b9b9"/><rect x="687.2" y="405.4" width="54.1" height="54.2" fill="#aeaeae"/><rect x="740.7" y="405.4" width="54.1" height="54.2" fill="#999999"/><rect x="794.3" y="405.4" width="123.6" height="54.2" fill="#979797"/><rect x="28.0" y="459.0" width="124.1" height="54.2" fill="#808080"/><rect x="151.6" y="459.0" width="54.1" height="54.2" fill="#7e7e7e"/><rect x="205.1" y="459.0" width="54.1" height="54.2" fill="#7b7b7b"/><rect x="258.7" y="459.0" width="54.1" height="54.2" fill="#929292"/><rect x="312.3" y="459.0" width="54.1" height="54.2" fill="#b5b5b5"/><rect x="365.8" y="459.0" width="107.6" height="54.2" fill="#9e9e9e"/><rect x="472.9" y="459.0" width="54.1" height="54.2" fill="#929292"/><rect x="526.5" y="459.0" width="54.1" height="54.2" fill="#909090"/><rect x="580.1" y="459.0" width="54.1" height="54.2" fill="#aeaeae"/><rect x="633.6" y="459.0" width="54.1" height="54.2" fill="#b5b5b5"/><rect x="687.2" y="459.0" width="54.1" height="54.2" fill="#7b7b7b"/><rect x="740.7" y="459.0" width="54.1" height="54.2" fill="#868686"/><rect x="794.3" y="459.0" width="123.6" height="54.2" fill="#8b8b8b"/><rect x="28.0" y="512.7" width="124.1" height="54.2" fill="#848484"/><rect x="151.6" y="512.7" width="54.1" height="54.2" fill="#878787"/><rect x="205.1" y="512.7" width="54.1" height="54.2" fill="#909090"/><rect x="258.7" y="512.7" width="107.6" height="54.2" fill="#8b8b8b"/><rect x="365.8" y="512.7" width="54.1" height="54.2" fill="#9e9e9e"/><rect x="419.4" y="512.7" width="107.6" height="54.2" fill="#929292"/><rect x="526.5" y="512.7" width="54.1" height="54.2" fill="#acacac"/><rect x="580.1" y="512.7" width="107.6" height="54.2" fill="#d1d1d1"/><rect x="687.2" y="512.7" width="54.1" height="54.2" fill="#aeaeae"/><rect x="740.7" y="512.7" width="54.1" height="54.2" fill="#8f8f8f"/><rect x="794.3" y="512.7" width="123.6" height="54.2" fill="#898989"/><rect x="28.0" y="566.3" width="124.1" height="123.7" fill="#8a8a8a"/><rect x="151.6" y="566.3" width="54.1" height="123.7" fill="#8d8d8d"/><rect x="205.1" y="566.3" width="54.1" height="123.7" fill="#8b8b8b"/><rect x="258.7" y="566.3" width="107.6" height="123.7" fill="#909090"/><rect x="365.8" y="566.3" width="54.1" height="123.7" fill="#939393"/><rect x="419.4" y="566.3" width="54.1" height="123.7" fill="#969696"/><rect x="472.9" y="566.3" width="54.1" height="123.7" fill="#9b9b9b"/><rect x="526.5" y="566.3" width="54.1" height="123.7" fill="#afafaf"/><rect x="580.1" y="566.3" width="54.1" height="123.7" fill="#c4c4c4"/><rect x="633.6" y="566.3" width="54.1" height="123.7" fill="#c5c5c5"/><rect x="687.2" y="566.3" width="54.1" height="123.7" fill="#bfbfbf"/><rect x="740.7" y="566.3" width="54.1" height="123.7" fill="#aeaeae"/><rect x="794.3" y="566.3" width="123.6" height="123.7" fill="#979797"/></g>
<polygon points="189.8,213.7 231.9,198.4 270.2,192.6 298.9,175.4 337.1,179.2 342.9,202.2 327.6,221.3 308.4,250.0 308.4,269.1 279.7,274.9 251.1,259.6 222.4,250.0" fill="#414141" filter="url(#b8)"/>
<ellipse cx="264.4" cy="230.9" rx="32.5" ry="15.3" fill="#2a2a2a" transform="rotate(20 264.4 230.9)" filter="url(#b6)"/>
<ellipse cx="331.4" cy="205.1" rx="5.7" ry="3.8" fill="#202020" filter="url(#b3)"/>
<ellipse cx="230.0" cy="238.5" rx="15.3" ry="9.6" fill="#2a2a2a" transform="rotate(25 230.0 238.5)" filter="url(#b4)"/>
<ellipse cx="289.3" cy="255.8" rx="19.1" ry="11.5" fill="#333333" filter="url(#b6)"/>
<ellipse cx="318.0" cy="186.9" rx="17.2" ry="9.6" fill="#3a3a3a" filter="url(#b6)"/>
<ellipse cx="243.4" cy="200.3" rx="17.2" ry="4.8" fill="#3c3c3c" filter="url(#b4)"/>
<ellipse cx="327.6" cy="282.5" rx="21.0" ry="7.7" fill="#3f3f3f" transform="rotate(25 327.6 282.5)" filter="url(#b4)"/>
<ellipse cx="295.1" cy="305.5" rx="13.4" ry="9.6" fill="#3f3f3f" filter="url(#b4)"/>
<ellipse cx="362.0" cy="303.6" rx="11.5" ry="6.7" fill="#414141" filter="url(#b4)"/>
<ellipse cx="289.3" cy="334.2" rx="17.2" ry="7.7" fill="#4a4a4a" transform="rotate(20 289.3 334.2)" filter="url(#b4)"/>
<ellipse cx="404.1" cy="194.5" rx="9.6" ry="9.6" fill="#515151" filter="url(#b4)"/>
<ellipse cx="235.7" cy="165.8" rx="15.3" ry="4.8" fill="#515151" filter="url(#b4)"/>
<ellipse cx="348.6" cy="328.5" rx="9.6" ry="5.7" fill="#565656" filter="url(#b4)"/>
<ellipse cx="461.5" cy="313.1" rx="17.2" ry="13.4" fill="#a9a9a9" filter="url(#b8)"/>
<polygon points="591.6,77.8 664.3,74.0 710.2,110.4 721.7,154.4 664.3,163.9 606.9,144.8" fill="#a7a7a7" filter="url(#b10)"/>
<polygon points="626.1,183.1 664.3,163.9 721.7,154.4 740.8,221.3 721.7,240.4 664.3,230.9 635.6,211.7" fill="#c5c5c5" filter="url(#b8)"/>
<polygon points="654.7,213.7 683.4,198.4 721.7,186.9 744.7,196.4 744.7,219.4 702.6,221.3 673.9,223.2" fill="#e3e3e3" filter="url(#b4)"/>
<ellipse cx="717.9" cy="203.1" rx="24.9" ry="7.7" fill="#f3f3f3" transform="rotate(-10 717.9 203.1)" filter="url(#b4)"/>
<ellipse cx="622.2" cy="301.7" rx="32.5" ry="19.1" fill="#c0c0c0" transform="rotate(30 622.2 301.7)" filter="url(#b8)"/>
<ellipse cx="629.9" cy="311.2" rx="13.4" ry="7.7" fill="#d5d5d5" filter="url(#b4)"/>
<polyline points="189.8,369.2 231.9,390.3 270.2,407.5" fill="none" stroke="#a7a7a7" stroke-width="11.5" stroke-linecap="round" stroke-linejoin="round" filter="url(#b6)"/>
<polygon points="186.4,363.9 201.3,368.8 216.6,378.4 231.0,389.3 223.3,393.7 207.0,389.9 192.7,380.7" fill="#dadada" filter="url(#b4)"/>
<ellipse cx="339.1" cy="493.6" rx="21.0" ry="19.1" fill="#b9b9b9" filter="url(#b6)"/>
<ellipse cx="379.2" cy="367.3" rx="11.5" ry="7.7" fill="#4a4a4a" transform="rotate(-20 379.2 367.3)" filter="url(#b4)"/>
<ellipse cx="264.4" cy="462.0" rx="8.6" ry="6.7" fill="#565656" filter="url(#b4)"/>
<ellipse cx="226.2" cy="441.0" rx="6.7" ry="4.8" fill="#585858" filter="url(#b4)"/>
<ellipse cx="427.1" cy="407.5" rx="9.6" ry="4.8" fill="#5d5d5d" filter="url(#b4)"/>
<ellipse cx="469.1" cy="430.4" rx="5.7" ry="5.7" fill="#515151" filter="url(#b4)"/>
<polygon points="549.5,516.5 587.8,505.1 664.3,508.9 721.7,516.5 721.7,524.2 606.9,543.3 553.4,533.7" fill="#b9b9b9" filter="url(#b6)"/>
<polygon points="587.8,508.9 626.1,505.1 664.3,512.7 693.0,520.4 683.4,529.9 616.5,535.7 597.4,524.2" fill="#d8d8d8" filter="url(#b4)"/>
<ellipse cx="737.0" cy="373.0" rx="47.8" ry="9.6" fill="#c7c7c7" transform="rotate(-12 737.0 373.0)" filter="url(#b6)"/>
<ellipse cx="767.6" cy="367.3" rx="11.5" ry="7.7" fill="#dcdcdc" filter="url(#b4)"/>
<ellipse cx="660.5" cy="394.1" rx="34.4" ry="6.7" fill="#cccccc" transform="rotate(5 660.5 394.1)" filter="url(#b4)"/>
<ellipse cx="656.7" cy="430.4" rx="19.1" ry="15.3" fill="#c0c0c0" filter="url(#b6)"/>
<ellipse cx="555.3" cy="363.5" rx="24.9" ry="11.5" fill="#c0c0c0" filter="url(#b6)"/>
<ellipse cx="727.4" cy="472.5" rx="26.8" ry="7.7" fill="#6d6d6d" transform="rotate(10 727.4 472.5)" filter="url(#b6)"/>
<ellipse cx="473.0" cy="430.4" rx="11.5" ry="7.7" fill="#515151" filter="url(#b4)"/>
<ellipse cx="501.7" cy="409.4" rx="23.0" ry="11.5" fill="#666666" filter="url(#b6)"/>
<ellipse cx="782.9" cy="507.0" rx="11.5" ry="4.8" fill="#b9b9b9" transform="rotate(-10 782.9 507.0)" filter="url(#b4)"/>
<ellipse cx="614.6" cy="476.4" rx="13.4" ry="7.7" fill="#b9b9b9" filter="url(#b4)"/>
</g>
<g fill="#fff"><polygon points="452.1,372.1 458.3,367.9 469.0,369.8 470.5,375.9 467.4,377.4 469.7,383.6 465.9,385.1 461.3,382.8 458.3,376.7 452.9,374.4"/><polygon points="467.4,362.1 473.6,361.4 478.1,362.1 487.3,361.8 493.5,363.7 499.6,366.7 504.2,369.8 511.8,371.3 512.6,374.4 510.3,379.7 510.3,385.1 505.7,388.9 503.4,387.4 500.3,383.6 496.5,379.0 488.9,375.9 487.3,371.3 481.2,369.0 473.6,369.8 472.0,366.0 468.2,365.2"/><polygon points="473.6,379.0 481.2,377.4 484.3,379.7 482.7,382.0 475.1,382.0"/><polygon points="514.1,398.1 521.8,394.3 530.2,395.0 533.2,398.9 531.7,409.6 517.9,408.8 518.7,406.5 524.8,404.2 519.5,400.4"/><polygon points="507.2,391.2 511.0,392.0 510.3,397.3 507.2,397.3"/><polygon points="647.5,469.1 652.1,464.5 659.8,462.2 669.0,463.0 676.6,463.7 685.0,466.8 688.9,472.1 693.5,476.0 698.0,479.8 702.6,485.1 702.6,489.0 696.5,490.5 688.9,489.0 679.7,487.4 675.9,484.4 669.0,482.1 659.8,482.8 652.9,479.0 649.1,474.4"/><polygon points="699.6,496.6 706.5,493.6 709.5,496.6 716.4,495.9 722.5,499.7 714.1,498.9 708.8,502.0 704.9,498.9"/><polygon points="727.9,498.9 730.9,494.3 736.3,496.6 741.7,495.9 745.5,500.4 744.7,504.3 736.3,505.0 733.2,501.2"/><polygon points="714.1,483.6 718.7,482.1 718.7,485.9"/><polygon points="692.7,493.6 696.5,492.8 695.7,495.9"/><polygon points="725.6,506.6 730.2,506.2 730.2,508.1 726.4,508.1"/><polygon points="680.4,492.8 682.7,492.0 683.1,495.9 681.2,495.9"/><polygon points="331.2,513.2 344.0,511.8 353.9,509.3 358.8,500.4 361.7,506.3 367.6,509.3 370.6,514.2 363.7,518.5 349.9,519.1 342.0,516.2"/><polygon points="352.9,530.9 358.8,530.9 358.8,533.3 352.9,533.3"/><polygon points="265.2,294.6 269.2,295.2 276.1,299.5 275.1,301.9 270.2,299.1"/><polygon points="388.9,305.4 391.7,305.4 391.7,307.8 388.9,307.8"/><polygon points="434.2,329.1 437.4,329.1 437.4,332.2 434.2,332.2"/><polygon points="390.9,362.9 393.6,362.9 393.6,365.7 390.9,365.7"/><polygon points="320.4,492.5 322.7,492.5 322.7,494.9 320.4,494.9"/></g>
</g>
<path d="M88.7 49.3H859.6V591.2" fill="none" stroke="#666" stroke-width="1.3"/>
<path d="M88.7 48.599999999999994V591.2H860.2" fill="none" stroke="#111" stroke-width="1.5"/>
<path d="M124.8 591.2v-6.5M124.8 49.3v6.5M231.9 591.2v-6.5M231.9 49.3v6.5M339.0 591.2v-6.5M339.0 49.3v6.5M446.2 591.2v-6.5M446.2 49.3v6.5M553.3 591.2v-6.5M553.3 49.3v6.5M660.4 591.2v-6.5M660.4 49.3v6.5M767.5 591.2v-6.5M767.5 49.3v6.5M88.7 83.4h6.5M859.6 83.4h-6.5M88.7 190.7h6.5M859.6 190.7h-6.5M88.7 298.0h6.5M859.6 298.0h-6.5M88.7 405.4h6.5M859.6 405.4h-6.5M88.7 512.7h6.5M859.6 512.7h-6.5" stroke="#000" stroke-width="1.4" fill="none"/>
<g font-size="27.7" fill="#000">
<text x="124.8" y="619.4" text-anchor="middle">16.0</text>
<text x="231.9" y="619.4" text-anchor="middle">16.2</text>
<text x="339.0" y="619.4" text-anchor="middle">16.4</text>
<text x="446.2" y="619.4" text-anchor="middle">16.6</text>
<text x="553.3" y="619.4" text-anchor="middle">16.8</text>
<text x="660.4" y="619.4" text-anchor="middle">17.0</text>
<text x="767.5" y="619.4" text-anchor="middle">17.2</text>
<text x="80.9" y="95.7" text-anchor="end">46.0</text>
<text x="80.9" y="203.0" text-anchor="end">45.8</text>
<text x="80.9" y="310.3" text-anchor="end">45.6</text>
<text x="80.9" y="417.7" text-anchor="end">45.4</text>
<text x="80.9" y="525.0" text-anchor="end">45.2</text>
<text x="474.2" y="40.6" text-anchor="middle">20210623</text>
<rect x="874.4" y="73.9" width="16.2" height="492.6" fill="url(#cb)"/>
<path d="M874.4 74.2L882.5 49.3L890.6 74.2z" fill="#800000"/>
<path d="M874.4 566.3L882.5 591.2L890.6 566.3z" fill="#000080"/>
<path d="M874.4 73.9L882.5 49.3L890.6 73.9V566.6L882.5 591.2L874.4 566.6z" fill="none" stroke="#000" stroke-opacity=".55" stroke-width="1.2" stroke-linejoin="round"/>
<text x="903.8" y="85.7">6</text>
<text x="903.8" y="175.3">4</text>
<text x="903.8" y="264.9">2</text>
<text x="903.8" y="354.4">0</text>
<text x="903.8" y="444.0">-2</text>
<text x="903.8" y="533.6">-4</text>
<path d="M890.6 73.9h5.5M890.6 163.5h5.5M890.6 253.1h5.5M890.6 342.6h5.5M890.6 432.2h5.5M890.6 521.8h5.5" stroke="#000" stroke-width="1.4" fill="none"/>
<text transform="translate(960.2 322.8) rotate(-90)" text-anchor="middle">cm</text>
<path d="M174.6 522V536.8H311V522" fill="none" stroke="#000" stroke-width="2.6"/>
<text x="242.4" y="518.1" text-anchor="middle">20 km</text>
</g>
<rect x="333.3" y="238.7" width="11.4" height="11.4" fill="#000"/>
</g>
</svg></body></html>
